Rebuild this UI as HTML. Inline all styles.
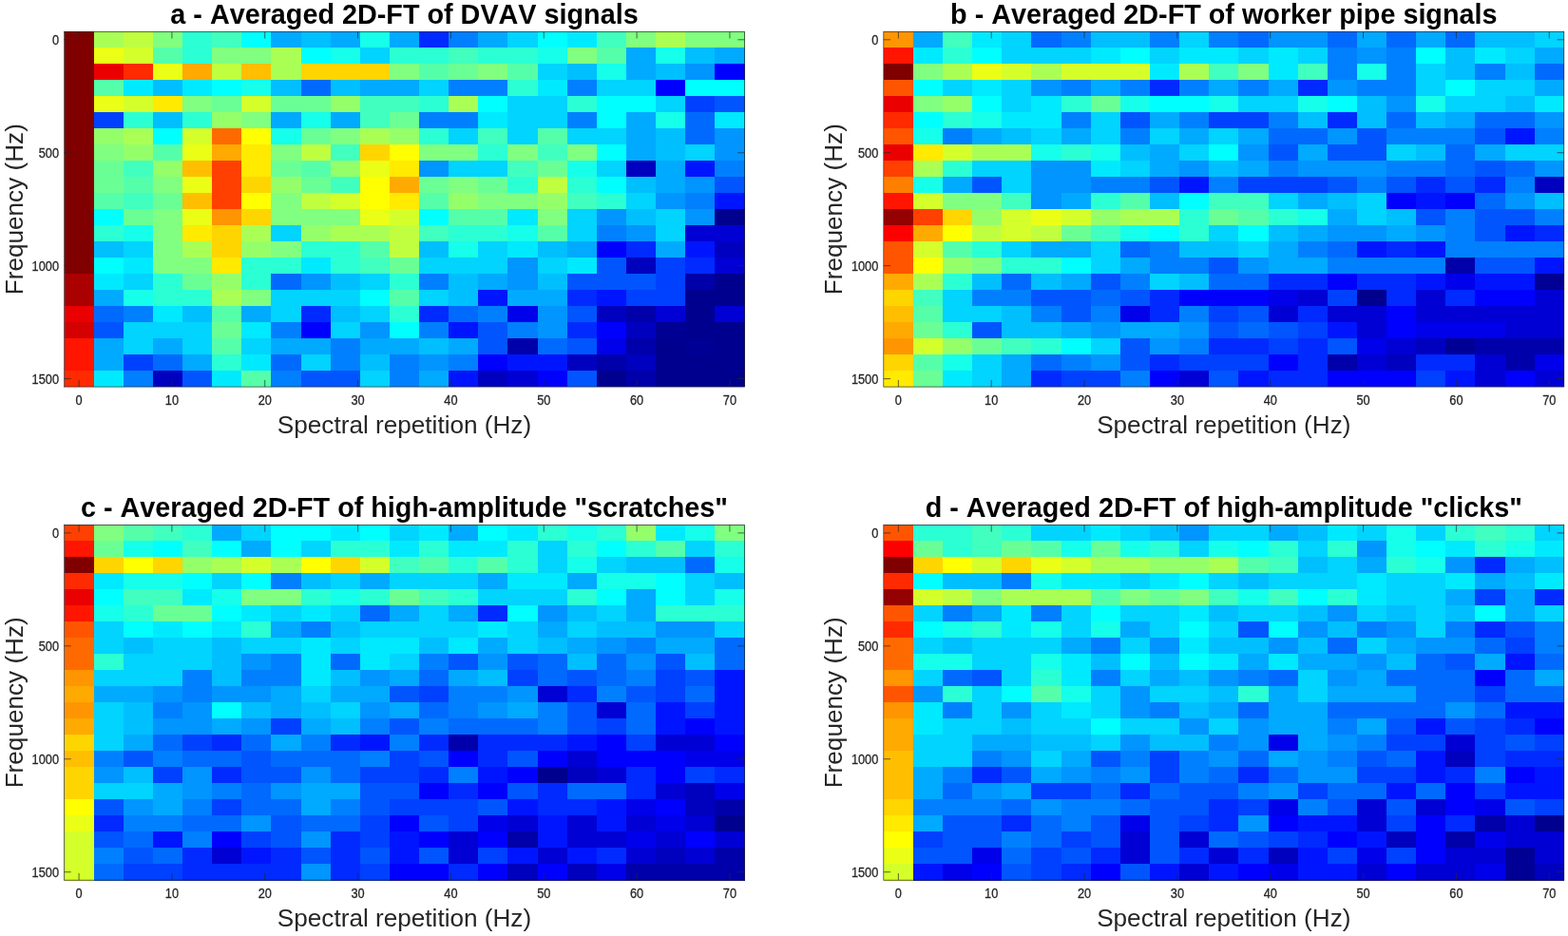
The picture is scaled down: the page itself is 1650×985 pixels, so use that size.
<!DOCTYPE html>
<html lang="en"><head><meta charset="utf-8"><title>Averaged 2D-FT</title>
<style>html,body{margin:0;padding:0;background:#fff;overflow:hidden}svg{display:block}text{font-family:"Liberation Sans",sans-serif;fill:#262626;font-kerning:none}.t{font-weight:bold;font-size:28.78px;font-kerning:none;fill:#000;text-anchor:middle}.l{font-size:26.15px;text-anchor:middle}.x{font-size:14.1px;text-anchor:middle;stroke:#262626;stroke-width:.3px}.y{font-size:14.1px;text-anchor:end;stroke:#262626;stroke-width:.3px}.k{stroke:#262626;stroke-width:0.7;fill:none}</style></head><body>
<svg width="1650" height="985" viewBox="0 0 1650 985">
<rect width="1650" height="985" fill="#fff"/>
<g id="panel-a">
<g shape-rendering="crispEdges">
<rect x="67.50" y="33.30" width="31.43" height="17.29" fill="#800000"/>
<rect x="98.63" y="33.30" width="31.43" height="17.29" fill="#aaff55"/>
<rect x="129.76" y="33.30" width="31.43" height="17.29" fill="#bfff40"/>
<rect x="160.89" y="33.30" width="31.43" height="17.29" fill="#80ff80"/>
<rect x="192.02" y="33.30" width="31.43" height="17.29" fill="#2bffd4"/>
<rect x="223.15" y="33.30" width="31.43" height="17.29" fill="#40ffbf"/>
<rect x="254.28" y="33.30" width="31.43" height="17.29" fill="#00ffff"/>
<rect x="285.41" y="33.30" width="31.43" height="17.29" fill="#00aaff"/>
<rect x="316.54" y="33.30" width="31.43" height="17.29" fill="#00bfff"/>
<rect x="347.67" y="33.30" width="31.43" height="17.29" fill="#00aaff"/>
<rect x="378.80" y="33.30" width="31.43" height="17.29" fill="#15ffea"/>
<rect x="409.93" y="33.30" width="31.43" height="17.29" fill="#00aaff"/>
<rect x="441.07" y="33.30" width="31.43" height="17.29" fill="#002aff"/>
<rect x="472.20" y="33.30" width="31.43" height="17.29" fill="#0080ff"/>
<rect x="503.33" y="33.30" width="31.43" height="17.29" fill="#00aaff"/>
<rect x="534.46" y="33.30" width="31.43" height="17.29" fill="#00d4ff"/>
<rect x="565.59" y="33.30" width="31.43" height="17.29" fill="#00ffff"/>
<rect x="596.72" y="33.30" width="31.43" height="17.29" fill="#00eaff"/>
<rect x="627.85" y="33.30" width="31.43" height="17.29" fill="#40ffbf"/>
<rect x="658.98" y="33.30" width="31.43" height="17.29" fill="#80ff80"/>
<rect x="690.11" y="33.30" width="31.43" height="17.29" fill="#aaff55"/>
<rect x="721.24" y="33.30" width="62.56" height="17.29" fill="#80ff80"/>
<rect x="67.50" y="50.29" width="31.43" height="17.29" fill="#800000"/>
<rect x="98.63" y="50.29" width="31.43" height="17.29" fill="#eaff15"/>
<rect x="129.76" y="50.29" width="31.43" height="17.29" fill="#d5ff2a"/>
<rect x="160.89" y="50.29" width="31.43" height="17.29" fill="#55ffaa"/>
<rect x="192.02" y="50.29" width="31.43" height="17.29" fill="#2bffd4"/>
<rect x="223.15" y="50.29" width="62.56" height="17.29" fill="#80ff80"/>
<rect x="285.41" y="50.29" width="31.43" height="17.29" fill="#aaff55"/>
<rect x="316.54" y="50.29" width="31.43" height="17.29" fill="#00ffff"/>
<rect x="347.67" y="50.29" width="31.43" height="17.29" fill="#15ffea"/>
<rect x="378.80" y="50.29" width="31.43" height="17.29" fill="#00d4ff"/>
<rect x="409.93" y="50.29" width="62.56" height="17.29" fill="#2bffd4"/>
<rect x="472.20" y="50.29" width="31.43" height="17.29" fill="#40ffbf"/>
<rect x="503.33" y="50.29" width="62.56" height="17.29" fill="#2bffd4"/>
<rect x="565.59" y="50.29" width="31.43" height="17.29" fill="#15ffea"/>
<rect x="596.72" y="50.29" width="31.43" height="17.29" fill="#80ff80"/>
<rect x="627.85" y="50.29" width="31.43" height="17.29" fill="#55ffaa"/>
<rect x="658.98" y="50.29" width="31.43" height="17.29" fill="#00aaff"/>
<rect x="690.11" y="50.29" width="31.43" height="17.29" fill="#15ffea"/>
<rect x="721.24" y="50.29" width="31.43" height="17.29" fill="#00bfff"/>
<rect x="752.37" y="50.29" width="31.43" height="17.29" fill="#00aaff"/>
<rect x="67.50" y="67.28" width="31.43" height="17.29" fill="#800000"/>
<rect x="98.63" y="67.28" width="31.43" height="17.29" fill="#ea0000"/>
<rect x="129.76" y="67.28" width="31.43" height="17.29" fill="#ff2a00"/>
<rect x="160.89" y="67.28" width="31.43" height="17.29" fill="#eaff15"/>
<rect x="192.02" y="67.28" width="31.43" height="17.29" fill="#ffaa00"/>
<rect x="223.15" y="67.28" width="31.43" height="17.29" fill="#bfff40"/>
<rect x="254.28" y="67.28" width="31.43" height="17.29" fill="#ffbf00"/>
<rect x="285.41" y="67.28" width="31.43" height="17.29" fill="#aaff55"/>
<rect x="316.54" y="67.28" width="93.69" height="17.29" fill="#ffd500"/>
<rect x="409.93" y="67.28" width="31.43" height="17.29" fill="#80ff80"/>
<rect x="441.07" y="67.28" width="31.43" height="17.29" fill="#55ffaa"/>
<rect x="472.20" y="67.28" width="31.43" height="17.29" fill="#6aff95"/>
<rect x="503.33" y="67.28" width="31.43" height="17.29" fill="#80ff80"/>
<rect x="534.46" y="67.28" width="31.43" height="17.29" fill="#55ffaa"/>
<rect x="565.59" y="67.28" width="31.43" height="17.29" fill="#00d4ff"/>
<rect x="596.72" y="67.28" width="31.43" height="17.29" fill="#00bfff"/>
<rect x="627.85" y="67.28" width="31.43" height="17.29" fill="#15ffea"/>
<rect x="658.98" y="67.28" width="31.43" height="17.29" fill="#00aaff"/>
<rect x="690.11" y="67.28" width="31.43" height="17.29" fill="#00bfff"/>
<rect x="721.24" y="67.28" width="31.43" height="17.29" fill="#0095ff"/>
<rect x="752.37" y="67.28" width="31.43" height="17.29" fill="#0000ff"/>
<rect x="67.50" y="84.27" width="31.43" height="17.29" fill="#800000"/>
<rect x="98.63" y="84.27" width="31.43" height="17.29" fill="#55ffaa"/>
<rect x="129.76" y="84.27" width="31.43" height="17.29" fill="#00eaff"/>
<rect x="160.89" y="84.27" width="31.43" height="17.29" fill="#00bfff"/>
<rect x="192.02" y="84.27" width="31.43" height="17.29" fill="#00eaff"/>
<rect x="223.15" y="84.27" width="31.43" height="17.29" fill="#00ffff"/>
<rect x="254.28" y="84.27" width="31.43" height="17.29" fill="#15ffea"/>
<rect x="285.41" y="84.27" width="31.43" height="17.29" fill="#00bfff"/>
<rect x="316.54" y="84.27" width="31.43" height="17.29" fill="#006aff"/>
<rect x="347.67" y="84.27" width="31.43" height="17.29" fill="#00bfff"/>
<rect x="378.80" y="84.27" width="62.56" height="17.29" fill="#00aaff"/>
<rect x="441.07" y="84.27" width="31.43" height="17.29" fill="#00d4ff"/>
<rect x="472.20" y="84.27" width="62.56" height="17.29" fill="#0080ff"/>
<rect x="534.46" y="84.27" width="31.43" height="17.29" fill="#2bffd4"/>
<rect x="565.59" y="84.27" width="31.43" height="17.29" fill="#00eaff"/>
<rect x="596.72" y="84.27" width="31.43" height="17.29" fill="#0080ff"/>
<rect x="627.85" y="84.27" width="62.56" height="17.29" fill="#00d4ff"/>
<rect x="690.11" y="84.27" width="31.43" height="17.29" fill="#0000ff"/>
<rect x="721.24" y="84.27" width="62.56" height="17.29" fill="#00ffff"/>
<rect x="67.50" y="101.26" width="31.43" height="17.29" fill="#800000"/>
<rect x="98.63" y="101.26" width="31.43" height="17.29" fill="#eaff15"/>
<rect x="129.76" y="101.26" width="31.43" height="17.29" fill="#d5ff2a"/>
<rect x="160.89" y="101.26" width="31.43" height="17.29" fill="#ffea00"/>
<rect x="192.02" y="101.26" width="31.43" height="17.29" fill="#80ff80"/>
<rect x="223.15" y="101.26" width="31.43" height="17.29" fill="#6aff95"/>
<rect x="254.28" y="101.26" width="31.43" height="17.29" fill="#d5ff2a"/>
<rect x="285.41" y="101.26" width="62.56" height="17.29" fill="#6aff95"/>
<rect x="347.67" y="101.26" width="31.43" height="17.29" fill="#95ff6a"/>
<rect x="378.80" y="101.26" width="62.56" height="17.29" fill="#40ffbf"/>
<rect x="441.07" y="101.26" width="31.43" height="17.29" fill="#2bffd4"/>
<rect x="472.20" y="101.26" width="31.43" height="17.29" fill="#aaff55"/>
<rect x="503.33" y="101.26" width="31.43" height="17.29" fill="#00ffff"/>
<rect x="534.46" y="101.26" width="62.56" height="17.29" fill="#00d4ff"/>
<rect x="596.72" y="101.26" width="31.43" height="17.29" fill="#2bffd4"/>
<rect x="627.85" y="101.26" width="62.56" height="17.29" fill="#00ffff"/>
<rect x="690.11" y="101.26" width="31.43" height="17.29" fill="#00d4ff"/>
<rect x="721.24" y="101.26" width="31.43" height="17.29" fill="#0040ff"/>
<rect x="752.37" y="101.26" width="31.43" height="17.29" fill="#0055ff"/>
<rect x="67.50" y="118.25" width="31.43" height="17.29" fill="#800000"/>
<rect x="98.63" y="118.25" width="31.43" height="17.29" fill="#0040ff"/>
<rect x="129.76" y="118.25" width="31.43" height="17.29" fill="#2bffd4"/>
<rect x="160.89" y="118.25" width="31.43" height="17.29" fill="#00bfff"/>
<rect x="192.02" y="118.25" width="31.43" height="17.29" fill="#2bffd4"/>
<rect x="223.15" y="118.25" width="31.43" height="17.29" fill="#95ff6a"/>
<rect x="254.28" y="118.25" width="31.43" height="17.29" fill="#80ff80"/>
<rect x="285.41" y="118.25" width="31.43" height="17.29" fill="#00aaff"/>
<rect x="316.54" y="118.25" width="31.43" height="17.29" fill="#15ffea"/>
<rect x="347.67" y="118.25" width="31.43" height="17.29" fill="#00aaff"/>
<rect x="378.80" y="118.25" width="31.43" height="17.29" fill="#40ffbf"/>
<rect x="409.93" y="118.25" width="31.43" height="17.29" fill="#6aff95"/>
<rect x="441.07" y="118.25" width="62.56" height="17.29" fill="#0080ff"/>
<rect x="503.33" y="118.25" width="31.43" height="17.29" fill="#00eaff"/>
<rect x="534.46" y="118.25" width="62.56" height="17.29" fill="#00d4ff"/>
<rect x="596.72" y="118.25" width="31.43" height="17.29" fill="#0080ff"/>
<rect x="627.85" y="118.25" width="31.43" height="17.29" fill="#00ffff"/>
<rect x="658.98" y="118.25" width="31.43" height="17.29" fill="#00aaff"/>
<rect x="690.11" y="118.25" width="31.43" height="17.29" fill="#15ffea"/>
<rect x="721.24" y="118.25" width="31.43" height="17.29" fill="#006aff"/>
<rect x="752.37" y="118.25" width="31.43" height="17.29" fill="#00eaff"/>
<rect x="67.50" y="135.25" width="31.43" height="17.29" fill="#800000"/>
<rect x="98.63" y="135.25" width="31.43" height="17.29" fill="#95ff6a"/>
<rect x="129.76" y="135.25" width="31.43" height="17.29" fill="#aaff55"/>
<rect x="160.89" y="135.25" width="31.43" height="17.29" fill="#00ffff"/>
<rect x="192.02" y="135.25" width="31.43" height="17.29" fill="#d5ff2a"/>
<rect x="223.15" y="135.25" width="31.43" height="17.29" fill="#ff6a00"/>
<rect x="254.28" y="135.25" width="31.43" height="17.29" fill="#ffff00"/>
<rect x="285.41" y="135.25" width="31.43" height="17.29" fill="#15ffea"/>
<rect x="316.54" y="135.25" width="31.43" height="17.29" fill="#6aff95"/>
<rect x="347.67" y="135.25" width="31.43" height="17.29" fill="#80ff80"/>
<rect x="378.80" y="135.25" width="31.43" height="17.29" fill="#aaff55"/>
<rect x="409.93" y="135.25" width="31.43" height="17.29" fill="#95ff6a"/>
<rect x="441.07" y="135.25" width="31.43" height="17.29" fill="#2bffd4"/>
<rect x="472.20" y="135.25" width="31.43" height="17.29" fill="#00d4ff"/>
<rect x="503.33" y="135.25" width="31.43" height="17.29" fill="#40ffbf"/>
<rect x="534.46" y="135.25" width="31.43" height="17.29" fill="#00d4ff"/>
<rect x="565.59" y="135.25" width="31.43" height="17.29" fill="#55ffaa"/>
<rect x="596.72" y="135.25" width="62.56" height="17.29" fill="#00d4ff"/>
<rect x="658.98" y="135.25" width="31.43" height="17.29" fill="#00aaff"/>
<rect x="690.11" y="135.25" width="31.43" height="17.29" fill="#00bfff"/>
<rect x="721.24" y="135.25" width="31.43" height="17.29" fill="#006aff"/>
<rect x="752.37" y="135.25" width="31.43" height="17.29" fill="#0095ff"/>
<rect x="67.50" y="152.24" width="31.43" height="17.29" fill="#800000"/>
<rect x="98.63" y="152.24" width="31.43" height="17.29" fill="#80ff80"/>
<rect x="129.76" y="152.24" width="31.43" height="17.29" fill="#95ff6a"/>
<rect x="160.89" y="152.24" width="31.43" height="17.29" fill="#55ffaa"/>
<rect x="192.02" y="152.24" width="31.43" height="17.29" fill="#eaff15"/>
<rect x="223.15" y="152.24" width="31.43" height="17.29" fill="#ffaa00"/>
<rect x="254.28" y="152.24" width="31.43" height="17.29" fill="#ffea00"/>
<rect x="285.41" y="152.24" width="31.43" height="17.29" fill="#80ff80"/>
<rect x="316.54" y="152.24" width="31.43" height="17.29" fill="#bfff40"/>
<rect x="347.67" y="152.24" width="31.43" height="17.29" fill="#40ffbf"/>
<rect x="378.80" y="152.24" width="31.43" height="17.29" fill="#ffd500"/>
<rect x="409.93" y="152.24" width="31.43" height="17.29" fill="#ffff00"/>
<rect x="441.07" y="152.24" width="62.56" height="17.29" fill="#80ff80"/>
<rect x="503.33" y="152.24" width="31.43" height="17.29" fill="#2bffd4"/>
<rect x="534.46" y="152.24" width="31.43" height="17.29" fill="#80ff80"/>
<rect x="565.59" y="152.24" width="31.43" height="17.29" fill="#40ffbf"/>
<rect x="596.72" y="152.24" width="31.43" height="17.29" fill="#80ff80"/>
<rect x="627.85" y="152.24" width="31.43" height="17.29" fill="#00ffff"/>
<rect x="658.98" y="152.24" width="31.43" height="17.29" fill="#00aaff"/>
<rect x="690.11" y="152.24" width="31.43" height="17.29" fill="#00bfff"/>
<rect x="721.24" y="152.24" width="31.43" height="17.29" fill="#00d4ff"/>
<rect x="752.37" y="152.24" width="31.43" height="17.29" fill="#0095ff"/>
<rect x="67.50" y="169.23" width="31.43" height="17.29" fill="#800000"/>
<rect x="98.63" y="169.23" width="31.43" height="17.29" fill="#6aff95"/>
<rect x="129.76" y="169.23" width="31.43" height="17.29" fill="#40ffbf"/>
<rect x="160.89" y="169.23" width="31.43" height="17.29" fill="#95ff6a"/>
<rect x="192.02" y="169.23" width="31.43" height="17.29" fill="#ffbf00"/>
<rect x="223.15" y="169.23" width="31.43" height="17.29" fill="#ff4000"/>
<rect x="254.28" y="169.23" width="31.43" height="17.29" fill="#ffea00"/>
<rect x="285.41" y="169.23" width="31.43" height="17.29" fill="#6aff95"/>
<rect x="316.54" y="169.23" width="31.43" height="17.29" fill="#55ffaa"/>
<rect x="347.67" y="169.23" width="31.43" height="17.29" fill="#95ff6a"/>
<rect x="378.80" y="169.23" width="31.43" height="17.29" fill="#eaff15"/>
<rect x="409.93" y="169.23" width="31.43" height="17.29" fill="#ffea00"/>
<rect x="441.07" y="169.23" width="31.43" height="17.29" fill="#0095ff"/>
<rect x="472.20" y="169.23" width="62.56" height="17.29" fill="#00d4ff"/>
<rect x="534.46" y="169.23" width="31.43" height="17.29" fill="#40ffbf"/>
<rect x="565.59" y="169.23" width="31.43" height="17.29" fill="#6aff95"/>
<rect x="596.72" y="169.23" width="31.43" height="17.29" fill="#15ffea"/>
<rect x="627.85" y="169.23" width="31.43" height="17.29" fill="#00d4ff"/>
<rect x="658.98" y="169.23" width="31.43" height="17.29" fill="#0000bf"/>
<rect x="690.11" y="169.23" width="31.43" height="17.29" fill="#00aaff"/>
<rect x="721.24" y="169.23" width="31.43" height="17.29" fill="#0015ff"/>
<rect x="752.37" y="169.23" width="31.43" height="17.29" fill="#0080ff"/>
<rect x="67.50" y="186.22" width="31.43" height="17.29" fill="#800000"/>
<rect x="98.63" y="186.22" width="31.43" height="17.29" fill="#6aff95"/>
<rect x="129.76" y="186.22" width="31.43" height="17.29" fill="#55ffaa"/>
<rect x="160.89" y="186.22" width="31.43" height="17.29" fill="#80ff80"/>
<rect x="192.02" y="186.22" width="31.43" height="17.29" fill="#eaff15"/>
<rect x="223.15" y="186.22" width="31.43" height="17.29" fill="#ff4000"/>
<rect x="254.28" y="186.22" width="31.43" height="17.29" fill="#ffd500"/>
<rect x="285.41" y="186.22" width="31.43" height="17.29" fill="#95ff6a"/>
<rect x="316.54" y="186.22" width="31.43" height="17.29" fill="#6aff95"/>
<rect x="347.67" y="186.22" width="31.43" height="17.29" fill="#40ffbf"/>
<rect x="378.80" y="186.22" width="31.43" height="17.29" fill="#ffff00"/>
<rect x="409.93" y="186.22" width="31.43" height="17.29" fill="#ffaa00"/>
<rect x="441.07" y="186.22" width="31.43" height="17.29" fill="#6aff95"/>
<rect x="472.20" y="186.22" width="31.43" height="17.29" fill="#80ff80"/>
<rect x="503.33" y="186.22" width="31.43" height="17.29" fill="#6aff95"/>
<rect x="534.46" y="186.22" width="31.43" height="17.29" fill="#2bffd4"/>
<rect x="565.59" y="186.22" width="31.43" height="17.29" fill="#bfff40"/>
<rect x="596.72" y="186.22" width="31.43" height="17.29" fill="#2bffd4"/>
<rect x="627.85" y="186.22" width="31.43" height="17.29" fill="#00ffff"/>
<rect x="658.98" y="186.22" width="31.43" height="17.29" fill="#00bfff"/>
<rect x="690.11" y="186.22" width="31.43" height="17.29" fill="#00aaff"/>
<rect x="721.24" y="186.22" width="31.43" height="17.29" fill="#0095ff"/>
<rect x="752.37" y="186.22" width="31.43" height="17.29" fill="#0055ff"/>
<rect x="67.50" y="203.21" width="31.43" height="17.29" fill="#800000"/>
<rect x="98.63" y="203.21" width="31.43" height="17.29" fill="#55ffaa"/>
<rect x="129.76" y="203.21" width="31.43" height="17.29" fill="#40ffbf"/>
<rect x="160.89" y="203.21" width="31.43" height="17.29" fill="#6aff95"/>
<rect x="192.02" y="203.21" width="31.43" height="17.29" fill="#ffbf00"/>
<rect x="223.15" y="203.21" width="31.43" height="17.29" fill="#ff4000"/>
<rect x="254.28" y="203.21" width="31.43" height="17.29" fill="#ffff00"/>
<rect x="285.41" y="203.21" width="31.43" height="17.29" fill="#80ff80"/>
<rect x="316.54" y="203.21" width="31.43" height="17.29" fill="#bfff40"/>
<rect x="347.67" y="203.21" width="31.43" height="17.29" fill="#d5ff2a"/>
<rect x="378.80" y="203.21" width="31.43" height="17.29" fill="#ffff00"/>
<rect x="409.93" y="203.21" width="31.43" height="17.29" fill="#ffea00"/>
<rect x="441.07" y="203.21" width="31.43" height="17.29" fill="#55ffaa"/>
<rect x="472.20" y="203.21" width="31.43" height="17.29" fill="#95ff6a"/>
<rect x="503.33" y="203.21" width="62.56" height="17.29" fill="#80ff80"/>
<rect x="565.59" y="203.21" width="31.43" height="17.29" fill="#95ff6a"/>
<rect x="596.72" y="203.21" width="31.43" height="17.29" fill="#40ffbf"/>
<rect x="627.85" y="203.21" width="31.43" height="17.29" fill="#2bffd4"/>
<rect x="658.98" y="203.21" width="31.43" height="17.29" fill="#00d4ff"/>
<rect x="690.11" y="203.21" width="31.43" height="17.29" fill="#0095ff"/>
<rect x="721.24" y="203.21" width="31.43" height="17.29" fill="#0080ff"/>
<rect x="752.37" y="203.21" width="31.43" height="17.29" fill="#0015ff"/>
<rect x="67.50" y="220.20" width="31.43" height="17.29" fill="#800000"/>
<rect x="98.63" y="220.20" width="31.43" height="17.29" fill="#00ffff"/>
<rect x="129.76" y="220.20" width="31.43" height="17.29" fill="#6aff95"/>
<rect x="160.89" y="220.20" width="31.43" height="17.29" fill="#80ff80"/>
<rect x="192.02" y="220.20" width="31.43" height="17.29" fill="#eaff15"/>
<rect x="223.15" y="220.20" width="31.43" height="17.29" fill="#ff9500"/>
<rect x="254.28" y="220.20" width="31.43" height="17.29" fill="#ffd500"/>
<rect x="285.41" y="220.20" width="93.69" height="17.29" fill="#80ff80"/>
<rect x="378.80" y="220.20" width="31.43" height="17.29" fill="#eaff15"/>
<rect x="409.93" y="220.20" width="31.43" height="17.29" fill="#d5ff2a"/>
<rect x="441.07" y="220.20" width="31.43" height="17.29" fill="#00ffff"/>
<rect x="472.20" y="220.20" width="62.56" height="17.29" fill="#55ffaa"/>
<rect x="534.46" y="220.20" width="31.43" height="17.29" fill="#00eaff"/>
<rect x="565.59" y="220.20" width="31.43" height="17.29" fill="#80ff80"/>
<rect x="596.72" y="220.20" width="31.43" height="17.29" fill="#00d4ff"/>
<rect x="627.85" y="220.20" width="31.43" height="17.29" fill="#0095ff"/>
<rect x="658.98" y="220.20" width="31.43" height="17.29" fill="#00bfff"/>
<rect x="690.11" y="220.20" width="31.43" height="17.29" fill="#00d4ff"/>
<rect x="721.24" y="220.20" width="31.43" height="17.29" fill="#0095ff"/>
<rect x="752.37" y="220.20" width="31.43" height="17.29" fill="#00008f"/>
<rect x="67.50" y="237.19" width="31.43" height="17.29" fill="#800000"/>
<rect x="98.63" y="237.19" width="31.43" height="17.29" fill="#2bffd4"/>
<rect x="129.76" y="237.19" width="31.43" height="17.29" fill="#15ffea"/>
<rect x="160.89" y="237.19" width="31.43" height="17.29" fill="#80ff80"/>
<rect x="192.02" y="237.19" width="31.43" height="17.29" fill="#ffea00"/>
<rect x="223.15" y="237.19" width="31.43" height="17.29" fill="#ffd500"/>
<rect x="254.28" y="237.19" width="31.43" height="17.29" fill="#aaff55"/>
<rect x="285.41" y="237.19" width="31.43" height="17.29" fill="#00d4ff"/>
<rect x="316.54" y="237.19" width="31.43" height="17.29" fill="#95ff6a"/>
<rect x="347.67" y="237.19" width="62.56" height="17.29" fill="#aaff55"/>
<rect x="409.93" y="237.19" width="31.43" height="17.29" fill="#bfff40"/>
<rect x="441.07" y="237.19" width="31.43" height="17.29" fill="#40ffbf"/>
<rect x="472.20" y="237.19" width="62.56" height="17.29" fill="#2bffd4"/>
<rect x="534.46" y="237.19" width="31.43" height="17.29" fill="#15ffea"/>
<rect x="565.59" y="237.19" width="31.43" height="17.29" fill="#55ffaa"/>
<rect x="596.72" y="237.19" width="31.43" height="17.29" fill="#00d4ff"/>
<rect x="627.85" y="237.19" width="31.43" height="17.29" fill="#0080ff"/>
<rect x="658.98" y="237.19" width="31.43" height="17.29" fill="#0095ff"/>
<rect x="690.11" y="237.19" width="31.43" height="17.29" fill="#00d4ff"/>
<rect x="721.24" y="237.19" width="62.56" height="17.29" fill="#0000d4"/>
<rect x="67.50" y="254.18" width="31.43" height="17.29" fill="#800000"/>
<rect x="98.63" y="254.18" width="31.43" height="17.29" fill="#00bfff"/>
<rect x="129.76" y="254.18" width="31.43" height="17.29" fill="#00d4ff"/>
<rect x="160.89" y="254.18" width="31.43" height="17.29" fill="#80ff80"/>
<rect x="192.02" y="254.18" width="31.43" height="17.29" fill="#aaff55"/>
<rect x="223.15" y="254.18" width="31.43" height="17.29" fill="#ffd500"/>
<rect x="254.28" y="254.18" width="31.43" height="17.29" fill="#95ff6a"/>
<rect x="285.41" y="254.18" width="31.43" height="17.29" fill="#80ff80"/>
<rect x="316.54" y="254.18" width="62.56" height="17.29" fill="#2bffd4"/>
<rect x="378.80" y="254.18" width="31.43" height="17.29" fill="#55ffaa"/>
<rect x="409.93" y="254.18" width="31.43" height="17.29" fill="#bfff40"/>
<rect x="441.07" y="254.18" width="31.43" height="17.29" fill="#00bfff"/>
<rect x="472.20" y="254.18" width="31.43" height="17.29" fill="#15ffea"/>
<rect x="503.33" y="254.18" width="31.43" height="17.29" fill="#00d4ff"/>
<rect x="534.46" y="254.18" width="31.43" height="17.29" fill="#00eaff"/>
<rect x="565.59" y="254.18" width="31.43" height="17.29" fill="#00bfff"/>
<rect x="596.72" y="254.18" width="31.43" height="17.29" fill="#00aaff"/>
<rect x="627.85" y="254.18" width="31.43" height="17.29" fill="#0000ff"/>
<rect x="658.98" y="254.18" width="31.43" height="17.29" fill="#002aff"/>
<rect x="690.11" y="254.18" width="31.43" height="17.29" fill="#00aaff"/>
<rect x="721.24" y="254.18" width="31.43" height="17.29" fill="#0015ff"/>
<rect x="752.37" y="254.18" width="31.43" height="17.29" fill="#0000bf"/>
<rect x="67.50" y="271.17" width="31.43" height="17.29" fill="#800000"/>
<rect x="98.63" y="271.17" width="31.43" height="17.29" fill="#00ffff"/>
<rect x="129.76" y="271.17" width="31.43" height="17.29" fill="#00eaff"/>
<rect x="160.89" y="271.17" width="62.56" height="17.29" fill="#80ff80"/>
<rect x="223.15" y="271.17" width="31.43" height="17.29" fill="#ffea00"/>
<rect x="254.28" y="271.17" width="62.56" height="17.29" fill="#2bffd4"/>
<rect x="316.54" y="271.17" width="31.43" height="17.29" fill="#00eaff"/>
<rect x="347.67" y="271.17" width="31.43" height="17.29" fill="#2bffd4"/>
<rect x="378.80" y="271.17" width="31.43" height="17.29" fill="#40ffbf"/>
<rect x="409.93" y="271.17" width="31.43" height="17.29" fill="#6aff95"/>
<rect x="441.07" y="271.17" width="93.69" height="17.29" fill="#00d4ff"/>
<rect x="534.46" y="271.17" width="31.43" height="17.29" fill="#0095ff"/>
<rect x="565.59" y="271.17" width="31.43" height="17.29" fill="#00d4ff"/>
<rect x="596.72" y="271.17" width="31.43" height="17.29" fill="#00eaff"/>
<rect x="627.85" y="271.17" width="31.43" height="17.29" fill="#0055ff"/>
<rect x="658.98" y="271.17" width="31.43" height="17.29" fill="#0000bf"/>
<rect x="690.11" y="271.17" width="31.43" height="17.29" fill="#0040ff"/>
<rect x="721.24" y="271.17" width="31.43" height="17.29" fill="#002aff"/>
<rect x="752.37" y="271.17" width="31.43" height="17.29" fill="#0000d4"/>
<rect x="67.50" y="288.16" width="31.43" height="17.29" fill="#aa0000"/>
<rect x="98.63" y="288.16" width="31.43" height="17.29" fill="#00eaff"/>
<rect x="129.76" y="288.16" width="31.43" height="17.29" fill="#00d4ff"/>
<rect x="160.89" y="288.16" width="31.43" height="17.29" fill="#2bffd4"/>
<rect x="192.02" y="288.16" width="31.43" height="17.29" fill="#6aff95"/>
<rect x="223.15" y="288.16" width="31.43" height="17.29" fill="#95ff6a"/>
<rect x="254.28" y="288.16" width="31.43" height="17.29" fill="#2bffd4"/>
<rect x="285.41" y="288.16" width="31.43" height="17.29" fill="#006aff"/>
<rect x="316.54" y="288.16" width="31.43" height="17.29" fill="#0095ff"/>
<rect x="347.67" y="288.16" width="31.43" height="17.29" fill="#00bfff"/>
<rect x="378.80" y="288.16" width="31.43" height="17.29" fill="#00d4ff"/>
<rect x="409.93" y="288.16" width="31.43" height="17.29" fill="#2bffd4"/>
<rect x="441.07" y="288.16" width="31.43" height="17.29" fill="#0080ff"/>
<rect x="472.20" y="288.16" width="31.43" height="17.29" fill="#00bfff"/>
<rect x="503.33" y="288.16" width="31.43" height="17.29" fill="#00aaff"/>
<rect x="534.46" y="288.16" width="31.43" height="17.29" fill="#0095ff"/>
<rect x="565.59" y="288.16" width="31.43" height="17.29" fill="#00bfff"/>
<rect x="596.72" y="288.16" width="93.69" height="17.29" fill="#0055ff"/>
<rect x="690.11" y="288.16" width="31.43" height="17.29" fill="#0040ff"/>
<rect x="721.24" y="288.16" width="31.43" height="17.29" fill="#0000aa"/>
<rect x="752.37" y="288.16" width="31.43" height="17.29" fill="#00008f"/>
<rect x="67.50" y="305.15" width="31.43" height="17.29" fill="#aa0000"/>
<rect x="98.63" y="305.15" width="31.43" height="17.29" fill="#00aaff"/>
<rect x="129.76" y="305.15" width="31.43" height="17.29" fill="#15ffea"/>
<rect x="160.89" y="305.15" width="62.56" height="17.29" fill="#2bffd4"/>
<rect x="223.15" y="305.15" width="31.43" height="17.29" fill="#aaff55"/>
<rect x="254.28" y="305.15" width="31.43" height="17.29" fill="#80ff80"/>
<rect x="285.41" y="305.15" width="93.69" height="17.29" fill="#00d4ff"/>
<rect x="378.80" y="305.15" width="31.43" height="17.29" fill="#00ffff"/>
<rect x="409.93" y="305.15" width="31.43" height="17.29" fill="#55ffaa"/>
<rect x="441.07" y="305.15" width="31.43" height="17.29" fill="#00d4ff"/>
<rect x="472.20" y="305.15" width="31.43" height="17.29" fill="#00bfff"/>
<rect x="503.33" y="305.15" width="31.43" height="17.29" fill="#0015ff"/>
<rect x="534.46" y="305.15" width="62.56" height="17.29" fill="#00aaff"/>
<rect x="596.72" y="305.15" width="31.43" height="17.29" fill="#002aff"/>
<rect x="627.85" y="305.15" width="31.43" height="17.29" fill="#0015ff"/>
<rect x="658.98" y="305.15" width="62.56" height="17.29" fill="#0040ff"/>
<rect x="721.24" y="305.15" width="62.56" height="17.29" fill="#00008f"/>
<rect x="67.50" y="322.15" width="31.43" height="17.29" fill="#ea0000"/>
<rect x="98.63" y="322.15" width="31.43" height="17.29" fill="#006aff"/>
<rect x="129.76" y="322.15" width="31.43" height="17.29" fill="#0080ff"/>
<rect x="160.89" y="322.15" width="31.43" height="17.29" fill="#00eaff"/>
<rect x="192.02" y="322.15" width="31.43" height="17.29" fill="#00bfff"/>
<rect x="223.15" y="322.15" width="31.43" height="17.29" fill="#55ffaa"/>
<rect x="254.28" y="322.15" width="31.43" height="17.29" fill="#00aaff"/>
<rect x="285.41" y="322.15" width="31.43" height="17.29" fill="#00d4ff"/>
<rect x="316.54" y="322.15" width="31.43" height="17.29" fill="#002aff"/>
<rect x="347.67" y="322.15" width="31.43" height="17.29" fill="#00bfff"/>
<rect x="378.80" y="322.15" width="31.43" height="17.29" fill="#00d4ff"/>
<rect x="409.93" y="322.15" width="31.43" height="17.29" fill="#2bffd4"/>
<rect x="441.07" y="322.15" width="31.43" height="17.29" fill="#002aff"/>
<rect x="472.20" y="322.15" width="31.43" height="17.29" fill="#006aff"/>
<rect x="503.33" y="322.15" width="31.43" height="17.29" fill="#0080ff"/>
<rect x="534.46" y="322.15" width="31.43" height="17.29" fill="#0000ea"/>
<rect x="565.59" y="322.15" width="31.43" height="17.29" fill="#0095ff"/>
<rect x="596.72" y="322.15" width="31.43" height="17.29" fill="#0055ff"/>
<rect x="627.85" y="322.15" width="31.43" height="17.29" fill="#0000bf"/>
<rect x="658.98" y="322.15" width="31.43" height="17.29" fill="#0000aa"/>
<rect x="690.11" y="322.15" width="31.43" height="17.29" fill="#0000d4"/>
<rect x="721.24" y="322.15" width="31.43" height="17.29" fill="#00008f"/>
<rect x="752.37" y="322.15" width="31.43" height="17.29" fill="#0000d4"/>
<rect x="67.50" y="339.14" width="31.43" height="17.29" fill="#d50000"/>
<rect x="98.63" y="339.14" width="31.43" height="17.29" fill="#0055ff"/>
<rect x="129.76" y="339.14" width="93.69" height="17.29" fill="#00d4ff"/>
<rect x="223.15" y="339.14" width="31.43" height="17.29" fill="#6aff95"/>
<rect x="254.28" y="339.14" width="31.43" height="17.29" fill="#00eaff"/>
<rect x="285.41" y="339.14" width="31.43" height="17.29" fill="#0080ff"/>
<rect x="316.54" y="339.14" width="31.43" height="17.29" fill="#0000ff"/>
<rect x="347.67" y="339.14" width="31.43" height="17.29" fill="#00d4ff"/>
<rect x="378.80" y="339.14" width="31.43" height="17.29" fill="#0095ff"/>
<rect x="409.93" y="339.14" width="31.43" height="17.29" fill="#00ffff"/>
<rect x="441.07" y="339.14" width="31.43" height="17.29" fill="#0080ff"/>
<rect x="472.20" y="339.14" width="31.43" height="17.29" fill="#0015ff"/>
<rect x="503.33" y="339.14" width="31.43" height="17.29" fill="#0055ff"/>
<rect x="534.46" y="339.14" width="31.43" height="17.29" fill="#0080ff"/>
<rect x="565.59" y="339.14" width="31.43" height="17.29" fill="#0095ff"/>
<rect x="596.72" y="339.14" width="31.43" height="17.29" fill="#002aff"/>
<rect x="627.85" y="339.14" width="31.43" height="17.29" fill="#0000ff"/>
<rect x="658.98" y="339.14" width="31.43" height="17.29" fill="#0000bf"/>
<rect x="690.11" y="339.14" width="31.43" height="17.29" fill="#000095"/>
<rect x="721.24" y="339.14" width="62.56" height="17.29" fill="#00008f"/>
<rect x="67.50" y="356.13" width="31.43" height="17.29" fill="#ff1500"/>
<rect x="98.63" y="356.13" width="31.43" height="17.29" fill="#00aaff"/>
<rect x="129.76" y="356.13" width="31.43" height="17.29" fill="#00d4ff"/>
<rect x="160.89" y="356.13" width="31.43" height="17.29" fill="#00aaff"/>
<rect x="192.02" y="356.13" width="31.43" height="17.29" fill="#00d4ff"/>
<rect x="223.15" y="356.13" width="31.43" height="17.29" fill="#55ffaa"/>
<rect x="254.28" y="356.13" width="31.43" height="17.29" fill="#00d4ff"/>
<rect x="285.41" y="356.13" width="62.56" height="17.29" fill="#00aaff"/>
<rect x="347.67" y="356.13" width="31.43" height="17.29" fill="#0080ff"/>
<rect x="378.80" y="356.13" width="62.56" height="17.29" fill="#00aaff"/>
<rect x="441.07" y="356.13" width="31.43" height="17.29" fill="#00bfff"/>
<rect x="472.20" y="356.13" width="31.43" height="17.29" fill="#00aaff"/>
<rect x="503.33" y="356.13" width="31.43" height="17.29" fill="#0055ff"/>
<rect x="534.46" y="356.13" width="31.43" height="17.29" fill="#0000aa"/>
<rect x="565.59" y="356.13" width="31.43" height="17.29" fill="#006aff"/>
<rect x="596.72" y="356.13" width="31.43" height="17.29" fill="#0055ff"/>
<rect x="627.85" y="356.13" width="31.43" height="17.29" fill="#0000ea"/>
<rect x="658.98" y="356.13" width="31.43" height="17.29" fill="#0000aa"/>
<rect x="690.11" y="356.13" width="31.43" height="17.29" fill="#00008f"/>
<rect x="721.24" y="356.13" width="31.43" height="17.29" fill="#000095"/>
<rect x="752.37" y="356.13" width="31.43" height="17.29" fill="#00008f"/>
<rect x="67.50" y="373.12" width="31.43" height="17.29" fill="#ff1500"/>
<rect x="98.63" y="373.12" width="31.43" height="17.29" fill="#00aaff"/>
<rect x="129.76" y="373.12" width="31.43" height="17.29" fill="#0040ff"/>
<rect x="160.89" y="373.12" width="31.43" height="17.29" fill="#006aff"/>
<rect x="192.02" y="373.12" width="31.43" height="17.29" fill="#00aaff"/>
<rect x="223.15" y="373.12" width="31.43" height="17.29" fill="#2bffd4"/>
<rect x="254.28" y="373.12" width="31.43" height="17.29" fill="#00eaff"/>
<rect x="285.41" y="373.12" width="31.43" height="17.29" fill="#006aff"/>
<rect x="316.54" y="373.12" width="31.43" height="17.29" fill="#00d4ff"/>
<rect x="347.67" y="373.12" width="31.43" height="17.29" fill="#0080ff"/>
<rect x="378.80" y="373.12" width="31.43" height="17.29" fill="#00bfff"/>
<rect x="409.93" y="373.12" width="31.43" height="17.29" fill="#0080ff"/>
<rect x="441.07" y="373.12" width="31.43" height="17.29" fill="#0095ff"/>
<rect x="472.20" y="373.12" width="31.43" height="17.29" fill="#0080ff"/>
<rect x="503.33" y="373.12" width="31.43" height="17.29" fill="#0000ff"/>
<rect x="534.46" y="373.12" width="62.56" height="17.29" fill="#0015ff"/>
<rect x="596.72" y="373.12" width="31.43" height="17.29" fill="#0000bf"/>
<rect x="627.85" y="373.12" width="31.43" height="17.29" fill="#0000aa"/>
<rect x="658.98" y="373.12" width="31.43" height="17.29" fill="#0000bf"/>
<rect x="690.11" y="373.12" width="93.69" height="17.29" fill="#00008f"/>
<rect x="67.50" y="390.11" width="31.43" height="17.29" fill="#ff2a00"/>
<rect x="98.63" y="390.11" width="31.43" height="17.29" fill="#00eaff"/>
<rect x="129.76" y="390.11" width="31.43" height="17.29" fill="#0080ff"/>
<rect x="160.89" y="390.11" width="31.43" height="17.29" fill="#0000bf"/>
<rect x="192.02" y="390.11" width="31.43" height="17.29" fill="#0055ff"/>
<rect x="223.15" y="390.11" width="31.43" height="17.29" fill="#00eaff"/>
<rect x="254.28" y="390.11" width="31.43" height="17.29" fill="#55ffaa"/>
<rect x="285.41" y="390.11" width="31.43" height="17.29" fill="#0080ff"/>
<rect x="316.54" y="390.11" width="62.56" height="17.29" fill="#0055ff"/>
<rect x="378.80" y="390.11" width="31.43" height="17.29" fill="#00d4ff"/>
<rect x="409.93" y="390.11" width="31.43" height="17.29" fill="#0080ff"/>
<rect x="441.07" y="390.11" width="31.43" height="17.29" fill="#00aaff"/>
<rect x="472.20" y="390.11" width="31.43" height="17.29" fill="#0015ff"/>
<rect x="503.33" y="390.11" width="31.43" height="17.29" fill="#0000bf"/>
<rect x="534.46" y="390.11" width="31.43" height="17.29" fill="#0000d4"/>
<rect x="565.59" y="390.11" width="31.43" height="17.29" fill="#0000ff"/>
<rect x="596.72" y="390.11" width="31.43" height="17.29" fill="#0055ff"/>
<rect x="627.85" y="390.11" width="31.43" height="17.29" fill="#00008f"/>
<rect x="658.98" y="390.11" width="31.43" height="17.29" fill="#0000aa"/>
<rect x="690.11" y="390.11" width="93.69" height="17.29" fill="#00008f"/>
</g>
<rect class="k" x="67.50" y="33.30" width="716.00" height="373.80"/>
<path class="k" d="M83.07 407.10 v-7.20 M83.07 33.30 v7.20 M180.90 407.10 v-7.20 M180.90 33.30 v7.20 M278.74 407.10 v-7.20 M278.74 33.30 v7.20 M376.58 407.10 v-7.20 M376.58 33.30 v7.20 M474.42 407.10 v-7.20 M474.42 33.30 v7.20 M572.26 407.10 v-7.20 M572.26 33.30 v7.20 M670.10 407.10 v-7.20 M670.10 33.30 v7.20 M767.93 407.10 v-7.20 M767.93 33.30 v7.20 M67.50 41.80 h7.20 M783.50 41.80 h-7.20 M67.50 160.73 h7.20 M783.50 160.73 h-7.20 M67.50 279.67 h7.20 M783.50 279.67 h-7.20 M67.50 398.60 h7.20 M783.50 398.60 h-7.20"/>
<text class="x" transform="translate(83.07 426.10) scale(0.905 1)">0</text>
<text class="x" transform="translate(180.90 426.10) scale(0.905 1)">10</text>
<text class="x" transform="translate(278.74 426.10) scale(0.905 1)">20</text>
<text class="x" transform="translate(376.58 426.10) scale(0.905 1)">30</text>
<text class="x" transform="translate(474.42 426.10) scale(0.905 1)">40</text>
<text class="x" transform="translate(572.26 426.10) scale(0.905 1)">50</text>
<text class="x" transform="translate(670.10 426.10) scale(0.905 1)">60</text>
<text class="x" transform="translate(767.93 426.10) scale(0.905 1)">70</text>
<text class="y" transform="translate(62.00 47.20) scale(0.905 1)">0</text>
<text class="y" transform="translate(62.00 166.13) scale(0.905 1)">500</text>
<text class="y" transform="translate(62.00 285.07) scale(0.905 1)">1000</text>
<text class="y" transform="translate(62.00 404.00) scale(0.905 1)">1500</text>
<text class="t" x="425.50" y="24.90">a - Averaged 2D-FT of DVAV signals</text>
<text class="l" x="425.50" y="456.20">Spectral repetition (Hz)</text>
<text class="l" transform="translate(23.60 220.20) rotate(-90)">Frequency (Hz)</text>
</g>
<g id="panel-b">
<g shape-rendering="crispEdges">
<rect x="929.80" y="33.30" width="31.43" height="17.29" fill="#ff9500"/>
<rect x="960.93" y="33.30" width="31.43" height="17.29" fill="#00aaff"/>
<rect x="992.06" y="33.30" width="31.43" height="17.29" fill="#40ffbf"/>
<rect x="1023.19" y="33.30" width="31.43" height="17.29" fill="#00eaff"/>
<rect x="1054.32" y="33.30" width="31.43" height="17.29" fill="#00d4ff"/>
<rect x="1085.45" y="33.30" width="31.43" height="17.29" fill="#006aff"/>
<rect x="1116.58" y="33.30" width="31.43" height="17.29" fill="#0080ff"/>
<rect x="1147.71" y="33.30" width="62.56" height="17.29" fill="#00bfff"/>
<rect x="1209.97" y="33.30" width="31.43" height="17.29" fill="#0080ff"/>
<rect x="1241.10" y="33.30" width="31.43" height="17.29" fill="#00d4ff"/>
<rect x="1272.23" y="33.30" width="31.43" height="17.29" fill="#0080ff"/>
<rect x="1303.37" y="33.30" width="31.43" height="17.29" fill="#006aff"/>
<rect x="1334.50" y="33.30" width="62.56" height="17.29" fill="#0095ff"/>
<rect x="1396.76" y="33.30" width="31.43" height="17.29" fill="#006aff"/>
<rect x="1427.89" y="33.30" width="31.43" height="17.29" fill="#00aaff"/>
<rect x="1459.02" y="33.30" width="31.43" height="17.29" fill="#006aff"/>
<rect x="1490.15" y="33.30" width="31.43" height="17.29" fill="#00aaff"/>
<rect x="1521.28" y="33.30" width="31.43" height="17.29" fill="#006aff"/>
<rect x="1552.41" y="33.30" width="62.56" height="17.29" fill="#00bfff"/>
<rect x="1614.67" y="33.30" width="31.43" height="17.29" fill="#00d4ff"/>
<rect x="929.80" y="50.29" width="31.43" height="17.29" fill="#ff1500"/>
<rect x="960.93" y="50.29" width="31.43" height="17.29" fill="#00eaff"/>
<rect x="992.06" y="50.29" width="31.43" height="17.29" fill="#2bffd4"/>
<rect x="1023.19" y="50.29" width="31.43" height="17.29" fill="#00ffff"/>
<rect x="1054.32" y="50.29" width="93.69" height="17.29" fill="#00d4ff"/>
<rect x="1147.71" y="50.29" width="31.43" height="17.29" fill="#00eaff"/>
<rect x="1178.84" y="50.29" width="31.43" height="17.29" fill="#00ffff"/>
<rect x="1209.97" y="50.29" width="31.43" height="17.29" fill="#00d4ff"/>
<rect x="1241.10" y="50.29" width="62.56" height="17.29" fill="#00eaff"/>
<rect x="1303.37" y="50.29" width="31.43" height="17.29" fill="#00d4ff"/>
<rect x="1334.50" y="50.29" width="31.43" height="17.29" fill="#00eaff"/>
<rect x="1365.63" y="50.29" width="31.43" height="17.29" fill="#00d4ff"/>
<rect x="1396.76" y="50.29" width="31.43" height="17.29" fill="#0080ff"/>
<rect x="1427.89" y="50.29" width="31.43" height="17.29" fill="#0095ff"/>
<rect x="1459.02" y="50.29" width="31.43" height="17.29" fill="#0080ff"/>
<rect x="1490.15" y="50.29" width="31.43" height="17.29" fill="#00ffff"/>
<rect x="1521.28" y="50.29" width="31.43" height="17.29" fill="#00bfff"/>
<rect x="1552.41" y="50.29" width="31.43" height="17.29" fill="#00eaff"/>
<rect x="1583.54" y="50.29" width="31.43" height="17.29" fill="#00d4ff"/>
<rect x="1614.67" y="50.29" width="31.43" height="17.29" fill="#00aaff"/>
<rect x="929.80" y="67.28" width="31.43" height="17.29" fill="#800000"/>
<rect x="960.93" y="67.28" width="31.43" height="17.29" fill="#80ff80"/>
<rect x="992.06" y="67.28" width="31.43" height="17.29" fill="#aaff55"/>
<rect x="1023.19" y="67.28" width="31.43" height="17.29" fill="#eaff15"/>
<rect x="1054.32" y="67.28" width="31.43" height="17.29" fill="#d5ff2a"/>
<rect x="1085.45" y="67.28" width="31.43" height="17.29" fill="#aaff55"/>
<rect x="1116.58" y="67.28" width="93.69" height="17.29" fill="#d5ff2a"/>
<rect x="1209.97" y="67.28" width="31.43" height="17.29" fill="#00eaff"/>
<rect x="1241.10" y="67.28" width="31.43" height="17.29" fill="#aaff55"/>
<rect x="1272.23" y="67.28" width="31.43" height="17.29" fill="#40ffbf"/>
<rect x="1303.37" y="67.28" width="31.43" height="17.29" fill="#80ff80"/>
<rect x="1334.50" y="67.28" width="31.43" height="17.29" fill="#00eaff"/>
<rect x="1365.63" y="67.28" width="31.43" height="17.29" fill="#40ffbf"/>
<rect x="1396.76" y="67.28" width="31.43" height="17.29" fill="#0080ff"/>
<rect x="1427.89" y="67.28" width="31.43" height="17.29" fill="#15ffea"/>
<rect x="1459.02" y="67.28" width="31.43" height="17.29" fill="#0080ff"/>
<rect x="1490.15" y="67.28" width="31.43" height="17.29" fill="#00d4ff"/>
<rect x="1521.28" y="67.28" width="31.43" height="17.29" fill="#00bfff"/>
<rect x="1552.41" y="67.28" width="31.43" height="17.29" fill="#0080ff"/>
<rect x="1583.54" y="67.28" width="31.43" height="17.29" fill="#00bfff"/>
<rect x="1614.67" y="67.28" width="31.43" height="17.29" fill="#006aff"/>
<rect x="929.80" y="84.27" width="31.43" height="17.29" fill="#ff5500"/>
<rect x="960.93" y="84.27" width="31.43" height="17.29" fill="#00ffff"/>
<rect x="992.06" y="84.27" width="31.43" height="17.29" fill="#00d4ff"/>
<rect x="1023.19" y="84.27" width="31.43" height="17.29" fill="#00eaff"/>
<rect x="1054.32" y="84.27" width="31.43" height="17.29" fill="#00d4ff"/>
<rect x="1085.45" y="84.27" width="31.43" height="17.29" fill="#0095ff"/>
<rect x="1116.58" y="84.27" width="31.43" height="17.29" fill="#0080ff"/>
<rect x="1147.71" y="84.27" width="31.43" height="17.29" fill="#00aaff"/>
<rect x="1178.84" y="84.27" width="31.43" height="17.29" fill="#0080ff"/>
<rect x="1209.97" y="84.27" width="31.43" height="17.29" fill="#002aff"/>
<rect x="1241.10" y="84.27" width="31.43" height="17.29" fill="#0080ff"/>
<rect x="1272.23" y="84.27" width="31.43" height="17.29" fill="#00aaff"/>
<rect x="1303.37" y="84.27" width="31.43" height="17.29" fill="#0080ff"/>
<rect x="1334.50" y="84.27" width="31.43" height="17.29" fill="#00aaff"/>
<rect x="1365.63" y="84.27" width="31.43" height="17.29" fill="#002aff"/>
<rect x="1396.76" y="84.27" width="31.43" height="17.29" fill="#0095ff"/>
<rect x="1427.89" y="84.27" width="62.56" height="17.29" fill="#0080ff"/>
<rect x="1490.15" y="84.27" width="31.43" height="17.29" fill="#00d4ff"/>
<rect x="1521.28" y="84.27" width="31.43" height="17.29" fill="#00ffff"/>
<rect x="1552.41" y="84.27" width="62.56" height="17.29" fill="#00d4ff"/>
<rect x="1614.67" y="84.27" width="31.43" height="17.29" fill="#00aaff"/>
<rect x="929.80" y="101.26" width="31.43" height="17.29" fill="#ea0000"/>
<rect x="960.93" y="101.26" width="31.43" height="17.29" fill="#80ff80"/>
<rect x="992.06" y="101.26" width="31.43" height="17.29" fill="#95ff6a"/>
<rect x="1023.19" y="101.26" width="31.43" height="17.29" fill="#00ffff"/>
<rect x="1054.32" y="101.26" width="31.43" height="17.29" fill="#00d4ff"/>
<rect x="1085.45" y="101.26" width="31.43" height="17.29" fill="#00eaff"/>
<rect x="1116.58" y="101.26" width="31.43" height="17.29" fill="#2bffd4"/>
<rect x="1147.71" y="101.26" width="31.43" height="17.29" fill="#6aff95"/>
<rect x="1178.84" y="101.26" width="31.43" height="17.29" fill="#15ffea"/>
<rect x="1209.97" y="101.26" width="62.56" height="17.29" fill="#00ffff"/>
<rect x="1272.23" y="101.26" width="31.43" height="17.29" fill="#15ffea"/>
<rect x="1303.37" y="101.26" width="62.56" height="17.29" fill="#00d4ff"/>
<rect x="1365.63" y="101.26" width="31.43" height="17.29" fill="#15ffea"/>
<rect x="1396.76" y="101.26" width="31.43" height="17.29" fill="#00ffff"/>
<rect x="1427.89" y="101.26" width="31.43" height="17.29" fill="#00bfff"/>
<rect x="1459.02" y="101.26" width="31.43" height="17.29" fill="#0095ff"/>
<rect x="1490.15" y="101.26" width="31.43" height="17.29" fill="#15ffea"/>
<rect x="1521.28" y="101.26" width="62.56" height="17.29" fill="#00d4ff"/>
<rect x="1583.54" y="101.26" width="31.43" height="17.29" fill="#00bfff"/>
<rect x="1614.67" y="101.26" width="31.43" height="17.29" fill="#00eaff"/>
<rect x="929.80" y="118.25" width="31.43" height="17.29" fill="#ff2a00"/>
<rect x="960.93" y="118.25" width="31.43" height="17.29" fill="#00ffff"/>
<rect x="992.06" y="118.25" width="31.43" height="17.29" fill="#2bffd4"/>
<rect x="1023.19" y="118.25" width="31.43" height="17.29" fill="#15ffea"/>
<rect x="1054.32" y="118.25" width="62.56" height="17.29" fill="#00eaff"/>
<rect x="1116.58" y="118.25" width="31.43" height="17.29" fill="#0080ff"/>
<rect x="1147.71" y="118.25" width="31.43" height="17.29" fill="#00d4ff"/>
<rect x="1178.84" y="118.25" width="31.43" height="17.29" fill="#0055ff"/>
<rect x="1209.97" y="118.25" width="31.43" height="17.29" fill="#00aaff"/>
<rect x="1241.10" y="118.25" width="31.43" height="17.29" fill="#0080ff"/>
<rect x="1272.23" y="118.25" width="62.56" height="17.29" fill="#0040ff"/>
<rect x="1334.50" y="118.25" width="31.43" height="17.29" fill="#0080ff"/>
<rect x="1365.63" y="118.25" width="31.43" height="17.29" fill="#00bfff"/>
<rect x="1396.76" y="118.25" width="31.43" height="17.29" fill="#002aff"/>
<rect x="1427.89" y="118.25" width="31.43" height="17.29" fill="#00bfff"/>
<rect x="1459.02" y="118.25" width="31.43" height="17.29" fill="#006aff"/>
<rect x="1490.15" y="118.25" width="31.43" height="17.29" fill="#00bfff"/>
<rect x="1521.28" y="118.25" width="31.43" height="17.29" fill="#00aaff"/>
<rect x="1552.41" y="118.25" width="62.56" height="17.29" fill="#006aff"/>
<rect x="1614.67" y="118.25" width="31.43" height="17.29" fill="#0095ff"/>
<rect x="929.80" y="135.25" width="31.43" height="17.29" fill="#ff5500"/>
<rect x="960.93" y="135.25" width="31.43" height="17.29" fill="#15ffea"/>
<rect x="992.06" y="135.25" width="31.43" height="17.29" fill="#0080ff"/>
<rect x="1023.19" y="135.25" width="31.43" height="17.29" fill="#00aaff"/>
<rect x="1054.32" y="135.25" width="31.43" height="17.29" fill="#00bfff"/>
<rect x="1085.45" y="135.25" width="31.43" height="17.29" fill="#00d4ff"/>
<rect x="1116.58" y="135.25" width="31.43" height="17.29" fill="#00aaff"/>
<rect x="1147.71" y="135.25" width="31.43" height="17.29" fill="#00d4ff"/>
<rect x="1178.84" y="135.25" width="31.43" height="17.29" fill="#0080ff"/>
<rect x="1209.97" y="135.25" width="31.43" height="17.29" fill="#00d4ff"/>
<rect x="1241.10" y="135.25" width="31.43" height="17.29" fill="#00aaff"/>
<rect x="1272.23" y="135.25" width="31.43" height="17.29" fill="#00d4ff"/>
<rect x="1303.37" y="135.25" width="31.43" height="17.29" fill="#00aaff"/>
<rect x="1334.50" y="135.25" width="62.56" height="17.29" fill="#006aff"/>
<rect x="1396.76" y="135.25" width="31.43" height="17.29" fill="#0095ff"/>
<rect x="1427.89" y="135.25" width="31.43" height="17.29" fill="#0055ff"/>
<rect x="1459.02" y="135.25" width="93.69" height="17.29" fill="#0080ff"/>
<rect x="1552.41" y="135.25" width="31.43" height="17.29" fill="#0055ff"/>
<rect x="1583.54" y="135.25" width="31.43" height="17.29" fill="#0015ff"/>
<rect x="1614.67" y="135.25" width="31.43" height="17.29" fill="#0080ff"/>
<rect x="929.80" y="152.24" width="31.43" height="17.29" fill="#ea0000"/>
<rect x="960.93" y="152.24" width="31.43" height="17.29" fill="#ffea00"/>
<rect x="992.06" y="152.24" width="31.43" height="17.29" fill="#d5ff2a"/>
<rect x="1023.19" y="152.24" width="62.56" height="17.29" fill="#aaff55"/>
<rect x="1085.45" y="152.24" width="31.43" height="17.29" fill="#15ffea"/>
<rect x="1116.58" y="152.24" width="31.43" height="17.29" fill="#2bffd4"/>
<rect x="1147.71" y="152.24" width="31.43" height="17.29" fill="#15ffea"/>
<rect x="1178.84" y="152.24" width="31.43" height="17.29" fill="#00bfff"/>
<rect x="1209.97" y="152.24" width="31.43" height="17.29" fill="#00aaff"/>
<rect x="1241.10" y="152.24" width="31.43" height="17.29" fill="#00d4ff"/>
<rect x="1272.23" y="152.24" width="31.43" height="17.29" fill="#00ffff"/>
<rect x="1303.37" y="152.24" width="31.43" height="17.29" fill="#0095ff"/>
<rect x="1334.50" y="152.24" width="31.43" height="17.29" fill="#0055ff"/>
<rect x="1365.63" y="152.24" width="31.43" height="17.29" fill="#00aaff"/>
<rect x="1396.76" y="152.24" width="62.56" height="17.29" fill="#0055ff"/>
<rect x="1459.02" y="152.24" width="31.43" height="17.29" fill="#00d4ff"/>
<rect x="1490.15" y="152.24" width="31.43" height="17.29" fill="#00bfff"/>
<rect x="1521.28" y="152.24" width="31.43" height="17.29" fill="#006aff"/>
<rect x="1552.41" y="152.24" width="31.43" height="17.29" fill="#00aaff"/>
<rect x="1583.54" y="152.24" width="62.56" height="17.29" fill="#00d4ff"/>
<rect x="929.80" y="169.23" width="31.43" height="17.29" fill="#ff4000"/>
<rect x="960.93" y="169.23" width="31.43" height="17.29" fill="#aaff55"/>
<rect x="992.06" y="169.23" width="31.43" height="17.29" fill="#2bffd4"/>
<rect x="1023.19" y="169.23" width="62.56" height="17.29" fill="#00d4ff"/>
<rect x="1085.45" y="169.23" width="62.56" height="17.29" fill="#0095ff"/>
<rect x="1147.71" y="169.23" width="31.43" height="17.29" fill="#00eaff"/>
<rect x="1178.84" y="169.23" width="31.43" height="17.29" fill="#00d4ff"/>
<rect x="1209.97" y="169.23" width="31.43" height="17.29" fill="#00aaff"/>
<rect x="1241.10" y="169.23" width="31.43" height="17.29" fill="#0095ff"/>
<rect x="1272.23" y="169.23" width="31.43" height="17.29" fill="#00bfff"/>
<rect x="1303.37" y="169.23" width="31.43" height="17.29" fill="#00aaff"/>
<rect x="1334.50" y="169.23" width="31.43" height="17.29" fill="#0080ff"/>
<rect x="1365.63" y="169.23" width="93.69" height="17.29" fill="#0095ff"/>
<rect x="1459.02" y="169.23" width="62.56" height="17.29" fill="#0080ff"/>
<rect x="1521.28" y="169.23" width="31.43" height="17.29" fill="#006aff"/>
<rect x="1552.41" y="169.23" width="31.43" height="17.29" fill="#0055ff"/>
<rect x="1583.54" y="169.23" width="31.43" height="17.29" fill="#006aff"/>
<rect x="1614.67" y="169.23" width="31.43" height="17.29" fill="#0095ff"/>
<rect x="929.80" y="186.22" width="31.43" height="17.29" fill="#ff8000"/>
<rect x="960.93" y="186.22" width="31.43" height="17.29" fill="#15ffea"/>
<rect x="992.06" y="186.22" width="31.43" height="17.29" fill="#00aaff"/>
<rect x="1023.19" y="186.22" width="31.43" height="17.29" fill="#0055ff"/>
<rect x="1054.32" y="186.22" width="31.43" height="17.29" fill="#00d4ff"/>
<rect x="1085.45" y="186.22" width="62.56" height="17.29" fill="#0095ff"/>
<rect x="1147.71" y="186.22" width="62.56" height="17.29" fill="#0080ff"/>
<rect x="1209.97" y="186.22" width="31.43" height="17.29" fill="#0055ff"/>
<rect x="1241.10" y="186.22" width="31.43" height="17.29" fill="#0015ff"/>
<rect x="1272.23" y="186.22" width="31.43" height="17.29" fill="#0080ff"/>
<rect x="1303.37" y="186.22" width="93.69" height="17.29" fill="#0040ff"/>
<rect x="1396.76" y="186.22" width="31.43" height="17.29" fill="#0055ff"/>
<rect x="1427.89" y="186.22" width="31.43" height="17.29" fill="#0080ff"/>
<rect x="1459.02" y="186.22" width="31.43" height="17.29" fill="#0055ff"/>
<rect x="1490.15" y="186.22" width="31.43" height="17.29" fill="#002aff"/>
<rect x="1521.28" y="186.22" width="31.43" height="17.29" fill="#0055ff"/>
<rect x="1552.41" y="186.22" width="31.43" height="17.29" fill="#002aff"/>
<rect x="1583.54" y="186.22" width="31.43" height="17.29" fill="#0080ff"/>
<rect x="1614.67" y="186.22" width="31.43" height="17.29" fill="#0000bf"/>
<rect x="929.80" y="203.21" width="31.43" height="17.29" fill="#ff1500"/>
<rect x="960.93" y="203.21" width="31.43" height="17.29" fill="#d5ff2a"/>
<rect x="992.06" y="203.21" width="62.56" height="17.29" fill="#80ff80"/>
<rect x="1054.32" y="203.21" width="31.43" height="17.29" fill="#40ffbf"/>
<rect x="1085.45" y="203.21" width="31.43" height="17.29" fill="#0095ff"/>
<rect x="1116.58" y="203.21" width="31.43" height="17.29" fill="#00aaff"/>
<rect x="1147.71" y="203.21" width="31.43" height="17.29" fill="#2bffd4"/>
<rect x="1178.84" y="203.21" width="31.43" height="17.29" fill="#55ffaa"/>
<rect x="1209.97" y="203.21" width="31.43" height="17.29" fill="#00bfff"/>
<rect x="1241.10" y="203.21" width="31.43" height="17.29" fill="#00ffff"/>
<rect x="1272.23" y="203.21" width="62.56" height="17.29" fill="#40ffbf"/>
<rect x="1334.50" y="203.21" width="31.43" height="17.29" fill="#00d4ff"/>
<rect x="1365.63" y="203.21" width="31.43" height="17.29" fill="#00aaff"/>
<rect x="1396.76" y="203.21" width="31.43" height="17.29" fill="#00bfff"/>
<rect x="1427.89" y="203.21" width="31.43" height="17.29" fill="#00d4ff"/>
<rect x="1459.02" y="203.21" width="31.43" height="17.29" fill="#0000ff"/>
<rect x="1490.15" y="203.21" width="31.43" height="17.29" fill="#0015ff"/>
<rect x="1521.28" y="203.21" width="31.43" height="17.29" fill="#0000ff"/>
<rect x="1552.41" y="203.21" width="31.43" height="17.29" fill="#006aff"/>
<rect x="1583.54" y="203.21" width="31.43" height="17.29" fill="#0095ff"/>
<rect x="1614.67" y="203.21" width="31.43" height="17.29" fill="#00bfff"/>
<rect x="929.80" y="220.20" width="31.43" height="17.29" fill="#950000"/>
<rect x="960.93" y="220.20" width="31.43" height="17.29" fill="#ff4000"/>
<rect x="992.06" y="220.20" width="31.43" height="17.29" fill="#ffd500"/>
<rect x="1023.19" y="220.20" width="31.43" height="17.29" fill="#95ff6a"/>
<rect x="1054.32" y="220.20" width="31.43" height="17.29" fill="#d5ff2a"/>
<rect x="1085.45" y="220.20" width="31.43" height="17.29" fill="#eaff15"/>
<rect x="1116.58" y="220.20" width="31.43" height="17.29" fill="#d5ff2a"/>
<rect x="1147.71" y="220.20" width="31.43" height="17.29" fill="#95ff6a"/>
<rect x="1178.84" y="220.20" width="62.56" height="17.29" fill="#aaff55"/>
<rect x="1241.10" y="220.20" width="31.43" height="17.29" fill="#2bffd4"/>
<rect x="1272.23" y="220.20" width="31.43" height="17.29" fill="#6aff95"/>
<rect x="1303.37" y="220.20" width="31.43" height="17.29" fill="#55ffaa"/>
<rect x="1334.50" y="220.20" width="31.43" height="17.29" fill="#2bffd4"/>
<rect x="1365.63" y="220.20" width="31.43" height="17.29" fill="#15ffea"/>
<rect x="1396.76" y="220.20" width="31.43" height="17.29" fill="#00aaff"/>
<rect x="1427.89" y="220.20" width="31.43" height="17.29" fill="#00d4ff"/>
<rect x="1459.02" y="220.20" width="31.43" height="17.29" fill="#00bfff"/>
<rect x="1490.15" y="220.20" width="31.43" height="17.29" fill="#0055ff"/>
<rect x="1521.28" y="220.20" width="31.43" height="17.29" fill="#0080ff"/>
<rect x="1552.41" y="220.20" width="62.56" height="17.29" fill="#0055ff"/>
<rect x="1614.67" y="220.20" width="31.43" height="17.29" fill="#0080ff"/>
<rect x="929.80" y="237.19" width="31.43" height="17.29" fill="#ff0000"/>
<rect x="960.93" y="237.19" width="31.43" height="17.29" fill="#ffaa00"/>
<rect x="992.06" y="237.19" width="31.43" height="17.29" fill="#ffff00"/>
<rect x="1023.19" y="237.19" width="31.43" height="17.29" fill="#bfff40"/>
<rect x="1054.32" y="237.19" width="31.43" height="17.29" fill="#d5ff2a"/>
<rect x="1085.45" y="237.19" width="31.43" height="17.29" fill="#bfff40"/>
<rect x="1116.58" y="237.19" width="31.43" height="17.29" fill="#6aff95"/>
<rect x="1147.71" y="237.19" width="31.43" height="17.29" fill="#40ffbf"/>
<rect x="1178.84" y="237.19" width="31.43" height="17.29" fill="#15ffea"/>
<rect x="1209.97" y="237.19" width="31.43" height="17.29" fill="#00ffff"/>
<rect x="1241.10" y="237.19" width="31.43" height="17.29" fill="#2bffd4"/>
<rect x="1272.23" y="237.19" width="31.43" height="17.29" fill="#00d4ff"/>
<rect x="1303.37" y="237.19" width="31.43" height="17.29" fill="#00ffff"/>
<rect x="1334.50" y="237.19" width="31.43" height="17.29" fill="#00bfff"/>
<rect x="1365.63" y="237.19" width="31.43" height="17.29" fill="#00aaff"/>
<rect x="1396.76" y="237.19" width="62.56" height="17.29" fill="#0095ff"/>
<rect x="1459.02" y="237.19" width="31.43" height="17.29" fill="#00aaff"/>
<rect x="1490.15" y="237.19" width="31.43" height="17.29" fill="#0095ff"/>
<rect x="1521.28" y="237.19" width="31.43" height="17.29" fill="#0080ff"/>
<rect x="1552.41" y="237.19" width="31.43" height="17.29" fill="#0055ff"/>
<rect x="1583.54" y="237.19" width="31.43" height="17.29" fill="#0015ff"/>
<rect x="1614.67" y="237.19" width="31.43" height="17.29" fill="#002aff"/>
<rect x="929.80" y="254.18" width="31.43" height="17.29" fill="#ff5500"/>
<rect x="960.93" y="254.18" width="31.43" height="17.29" fill="#d5ff2a"/>
<rect x="992.06" y="254.18" width="31.43" height="17.29" fill="#55ffaa"/>
<rect x="1023.19" y="254.18" width="31.43" height="17.29" fill="#2bffd4"/>
<rect x="1054.32" y="254.18" width="31.43" height="17.29" fill="#00d4ff"/>
<rect x="1085.45" y="254.18" width="62.56" height="17.29" fill="#00aaff"/>
<rect x="1147.71" y="254.18" width="31.43" height="17.29" fill="#00d4ff"/>
<rect x="1178.84" y="254.18" width="31.43" height="17.29" fill="#006aff"/>
<rect x="1209.97" y="254.18" width="31.43" height="17.29" fill="#0080ff"/>
<rect x="1241.10" y="254.18" width="62.56" height="17.29" fill="#00bfff"/>
<rect x="1303.37" y="254.18" width="31.43" height="17.29" fill="#00d4ff"/>
<rect x="1334.50" y="254.18" width="31.43" height="17.29" fill="#00aaff"/>
<rect x="1365.63" y="254.18" width="31.43" height="17.29" fill="#0080ff"/>
<rect x="1396.76" y="254.18" width="31.43" height="17.29" fill="#006aff"/>
<rect x="1427.89" y="254.18" width="31.43" height="17.29" fill="#0015ff"/>
<rect x="1459.02" y="254.18" width="31.43" height="17.29" fill="#002aff"/>
<rect x="1490.15" y="254.18" width="31.43" height="17.29" fill="#0015ff"/>
<rect x="1521.28" y="254.18" width="124.82" height="17.29" fill="#0080ff"/>
<rect x="929.80" y="271.17" width="31.43" height="17.29" fill="#ff5500"/>
<rect x="960.93" y="271.17" width="31.43" height="17.29" fill="#ffff00"/>
<rect x="992.06" y="271.17" width="31.43" height="17.29" fill="#95ff6a"/>
<rect x="1023.19" y="271.17" width="31.43" height="17.29" fill="#80ff80"/>
<rect x="1054.32" y="271.17" width="62.56" height="17.29" fill="#2bffd4"/>
<rect x="1116.58" y="271.17" width="31.43" height="17.29" fill="#00ffff"/>
<rect x="1147.71" y="271.17" width="31.43" height="17.29" fill="#00d4ff"/>
<rect x="1178.84" y="271.17" width="31.43" height="17.29" fill="#00aaff"/>
<rect x="1209.97" y="271.17" width="62.56" height="17.29" fill="#0080ff"/>
<rect x="1272.23" y="271.17" width="31.43" height="17.29" fill="#0055ff"/>
<rect x="1303.37" y="271.17" width="31.43" height="17.29" fill="#0095ff"/>
<rect x="1334.50" y="271.17" width="62.56" height="17.29" fill="#00aaff"/>
<rect x="1396.76" y="271.17" width="124.82" height="17.29" fill="#0080ff"/>
<rect x="1521.28" y="271.17" width="31.43" height="17.29" fill="#0000aa"/>
<rect x="1552.41" y="271.17" width="62.56" height="17.29" fill="#0055ff"/>
<rect x="1614.67" y="271.17" width="31.43" height="17.29" fill="#0015ff"/>
<rect x="929.80" y="288.16" width="31.43" height="17.29" fill="#ffaa00"/>
<rect x="960.93" y="288.16" width="31.43" height="17.29" fill="#aaff55"/>
<rect x="992.06" y="288.16" width="31.43" height="17.29" fill="#2bffd4"/>
<rect x="1023.19" y="288.16" width="31.43" height="17.29" fill="#00bfff"/>
<rect x="1054.32" y="288.16" width="31.43" height="17.29" fill="#006aff"/>
<rect x="1085.45" y="288.16" width="31.43" height="17.29" fill="#00bfff"/>
<rect x="1116.58" y="288.16" width="31.43" height="17.29" fill="#00aaff"/>
<rect x="1147.71" y="288.16" width="31.43" height="17.29" fill="#0055ff"/>
<rect x="1178.84" y="288.16" width="31.43" height="17.29" fill="#0080ff"/>
<rect x="1209.97" y="288.16" width="31.43" height="17.29" fill="#00d4ff"/>
<rect x="1241.10" y="288.16" width="31.43" height="17.29" fill="#00bfff"/>
<rect x="1272.23" y="288.16" width="62.56" height="17.29" fill="#006aff"/>
<rect x="1334.50" y="288.16" width="62.56" height="17.29" fill="#002aff"/>
<rect x="1396.76" y="288.16" width="31.43" height="17.29" fill="#0000ff"/>
<rect x="1427.89" y="288.16" width="62.56" height="17.29" fill="#002aff"/>
<rect x="1490.15" y="288.16" width="31.43" height="17.29" fill="#0015ff"/>
<rect x="1521.28" y="288.16" width="31.43" height="17.29" fill="#0000ea"/>
<rect x="1552.41" y="288.16" width="62.56" height="17.29" fill="#0015ff"/>
<rect x="1614.67" y="288.16" width="31.43" height="17.29" fill="#000095"/>
<rect x="929.80" y="305.15" width="31.43" height="17.29" fill="#ffd500"/>
<rect x="960.93" y="305.15" width="31.43" height="17.29" fill="#40ffbf"/>
<rect x="992.06" y="305.15" width="31.43" height="17.29" fill="#00d4ff"/>
<rect x="1023.19" y="305.15" width="62.56" height="17.29" fill="#0080ff"/>
<rect x="1085.45" y="305.15" width="62.56" height="17.29" fill="#0055ff"/>
<rect x="1147.71" y="305.15" width="31.43" height="17.29" fill="#006aff"/>
<rect x="1178.84" y="305.15" width="31.43" height="17.29" fill="#0055ff"/>
<rect x="1209.97" y="305.15" width="31.43" height="17.29" fill="#002aff"/>
<rect x="1241.10" y="305.15" width="93.69" height="17.29" fill="#0000ff"/>
<rect x="1334.50" y="305.15" width="31.43" height="17.29" fill="#0000ea"/>
<rect x="1365.63" y="305.15" width="31.43" height="17.29" fill="#0000d4"/>
<rect x="1396.76" y="305.15" width="31.43" height="17.29" fill="#0040ff"/>
<rect x="1427.89" y="305.15" width="31.43" height="17.29" fill="#00008f"/>
<rect x="1459.02" y="305.15" width="31.43" height="17.29" fill="#002aff"/>
<rect x="1490.15" y="305.15" width="31.43" height="17.29" fill="#0000d4"/>
<rect x="1521.28" y="305.15" width="31.43" height="17.29" fill="#002aff"/>
<rect x="1552.41" y="305.15" width="62.56" height="17.29" fill="#0000ff"/>
<rect x="1614.67" y="305.15" width="31.43" height="17.29" fill="#0000d4"/>
<rect x="929.80" y="322.15" width="31.43" height="17.29" fill="#ffbf00"/>
<rect x="960.93" y="322.15" width="31.43" height="17.29" fill="#55ffaa"/>
<rect x="992.06" y="322.15" width="62.56" height="17.29" fill="#00d4ff"/>
<rect x="1054.32" y="322.15" width="31.43" height="17.29" fill="#00bfff"/>
<rect x="1085.45" y="322.15" width="31.43" height="17.29" fill="#0080ff"/>
<rect x="1116.58" y="322.15" width="31.43" height="17.29" fill="#0055ff"/>
<rect x="1147.71" y="322.15" width="31.43" height="17.29" fill="#0080ff"/>
<rect x="1178.84" y="322.15" width="31.43" height="17.29" fill="#0000ea"/>
<rect x="1209.97" y="322.15" width="31.43" height="17.29" fill="#002aff"/>
<rect x="1241.10" y="322.15" width="31.43" height="17.29" fill="#0080ff"/>
<rect x="1272.23" y="322.15" width="31.43" height="17.29" fill="#0040ff"/>
<rect x="1303.37" y="322.15" width="31.43" height="17.29" fill="#0055ff"/>
<rect x="1334.50" y="322.15" width="31.43" height="17.29" fill="#0000d4"/>
<rect x="1365.63" y="322.15" width="31.43" height="17.29" fill="#002aff"/>
<rect x="1396.76" y="322.15" width="62.56" height="17.29" fill="#0000d4"/>
<rect x="1459.02" y="322.15" width="31.43" height="17.29" fill="#0000ff"/>
<rect x="1490.15" y="322.15" width="155.95" height="17.29" fill="#0000d4"/>
<rect x="929.80" y="339.14" width="31.43" height="17.29" fill="#ffaa00"/>
<rect x="960.93" y="339.14" width="31.43" height="17.29" fill="#6aff95"/>
<rect x="992.06" y="339.14" width="31.43" height="17.29" fill="#2bffd4"/>
<rect x="1023.19" y="339.14" width="31.43" height="17.29" fill="#0055ff"/>
<rect x="1054.32" y="339.14" width="62.56" height="17.29" fill="#00bfff"/>
<rect x="1116.58" y="339.14" width="31.43" height="17.29" fill="#00aaff"/>
<rect x="1147.71" y="339.14" width="31.43" height="17.29" fill="#0095ff"/>
<rect x="1178.84" y="339.14" width="62.56" height="17.29" fill="#00aaff"/>
<rect x="1241.10" y="339.14" width="31.43" height="17.29" fill="#0095ff"/>
<rect x="1272.23" y="339.14" width="31.43" height="17.29" fill="#0055ff"/>
<rect x="1303.37" y="339.14" width="31.43" height="17.29" fill="#006aff"/>
<rect x="1334.50" y="339.14" width="31.43" height="17.29" fill="#0055ff"/>
<rect x="1365.63" y="339.14" width="31.43" height="17.29" fill="#0040ff"/>
<rect x="1396.76" y="339.14" width="31.43" height="17.29" fill="#0015ff"/>
<rect x="1427.89" y="339.14" width="31.43" height="17.29" fill="#0000d4"/>
<rect x="1459.02" y="339.14" width="31.43" height="17.29" fill="#0000ff"/>
<rect x="1490.15" y="339.14" width="93.69" height="17.29" fill="#0000ea"/>
<rect x="1583.54" y="339.14" width="62.56" height="17.29" fill="#0000d4"/>
<rect x="929.80" y="356.13" width="31.43" height="17.29" fill="#ff9500"/>
<rect x="960.93" y="356.13" width="31.43" height="17.29" fill="#d5ff2a"/>
<rect x="992.06" y="356.13" width="31.43" height="17.29" fill="#95ff6a"/>
<rect x="1023.19" y="356.13" width="31.43" height="17.29" fill="#6aff95"/>
<rect x="1054.32" y="356.13" width="31.43" height="17.29" fill="#40ffbf"/>
<rect x="1085.45" y="356.13" width="31.43" height="17.29" fill="#2bffd4"/>
<rect x="1116.58" y="356.13" width="31.43" height="17.29" fill="#00ffff"/>
<rect x="1147.71" y="356.13" width="31.43" height="17.29" fill="#00d4ff"/>
<rect x="1178.84" y="356.13" width="31.43" height="17.29" fill="#0055ff"/>
<rect x="1209.97" y="356.13" width="31.43" height="17.29" fill="#0095ff"/>
<rect x="1241.10" y="356.13" width="31.43" height="17.29" fill="#0080ff"/>
<rect x="1272.23" y="356.13" width="62.56" height="17.29" fill="#002aff"/>
<rect x="1334.50" y="356.13" width="31.43" height="17.29" fill="#0040ff"/>
<rect x="1365.63" y="356.13" width="31.43" height="17.29" fill="#002aff"/>
<rect x="1396.76" y="356.13" width="31.43" height="17.29" fill="#0055ff"/>
<rect x="1427.89" y="356.13" width="31.43" height="17.29" fill="#0000ea"/>
<rect x="1459.02" y="356.13" width="31.43" height="17.29" fill="#0000d4"/>
<rect x="1490.15" y="356.13" width="31.43" height="17.29" fill="#0000bf"/>
<rect x="1521.28" y="356.13" width="31.43" height="17.29" fill="#000095"/>
<rect x="1552.41" y="356.13" width="93.69" height="17.29" fill="#0000aa"/>
<rect x="929.80" y="373.12" width="31.43" height="17.29" fill="#ffd500"/>
<rect x="960.93" y="373.12" width="31.43" height="17.29" fill="#55ffaa"/>
<rect x="992.06" y="373.12" width="31.43" height="17.29" fill="#15ffea"/>
<rect x="1023.19" y="373.12" width="31.43" height="17.29" fill="#00d4ff"/>
<rect x="1054.32" y="373.12" width="31.43" height="17.29" fill="#00aaff"/>
<rect x="1085.45" y="373.12" width="31.43" height="17.29" fill="#006aff"/>
<rect x="1116.58" y="373.12" width="31.43" height="17.29" fill="#0080ff"/>
<rect x="1147.71" y="373.12" width="31.43" height="17.29" fill="#0095ff"/>
<rect x="1178.84" y="373.12" width="31.43" height="17.29" fill="#0055ff"/>
<rect x="1209.97" y="373.12" width="31.43" height="17.29" fill="#002aff"/>
<rect x="1241.10" y="373.12" width="93.69" height="17.29" fill="#0040ff"/>
<rect x="1334.50" y="373.12" width="31.43" height="17.29" fill="#0000ff"/>
<rect x="1365.63" y="373.12" width="31.43" height="17.29" fill="#002aff"/>
<rect x="1396.76" y="373.12" width="31.43" height="17.29" fill="#0000aa"/>
<rect x="1427.89" y="373.12" width="31.43" height="17.29" fill="#0000d4"/>
<rect x="1459.02" y="373.12" width="31.43" height="17.29" fill="#0000bf"/>
<rect x="1490.15" y="373.12" width="62.56" height="17.29" fill="#002aff"/>
<rect x="1552.41" y="373.12" width="31.43" height="17.29" fill="#0000d4"/>
<rect x="1583.54" y="373.12" width="31.43" height="17.29" fill="#0000aa"/>
<rect x="1614.67" y="373.12" width="31.43" height="17.29" fill="#0000ea"/>
<rect x="929.80" y="390.11" width="31.43" height="17.29" fill="#ffea00"/>
<rect x="960.93" y="390.11" width="31.43" height="17.29" fill="#6aff95"/>
<rect x="992.06" y="390.11" width="31.43" height="17.29" fill="#00eaff"/>
<rect x="1023.19" y="390.11" width="31.43" height="17.29" fill="#00d4ff"/>
<rect x="1054.32" y="390.11" width="31.43" height="17.29" fill="#00aaff"/>
<rect x="1085.45" y="390.11" width="31.43" height="17.29" fill="#002aff"/>
<rect x="1116.58" y="390.11" width="62.56" height="17.29" fill="#0040ff"/>
<rect x="1178.84" y="390.11" width="31.43" height="17.29" fill="#0080ff"/>
<rect x="1209.97" y="390.11" width="31.43" height="17.29" fill="#0000ff"/>
<rect x="1241.10" y="390.11" width="31.43" height="17.29" fill="#0000d4"/>
<rect x="1272.23" y="390.11" width="31.43" height="17.29" fill="#0055ff"/>
<rect x="1303.37" y="390.11" width="31.43" height="17.29" fill="#0015ff"/>
<rect x="1334.50" y="390.11" width="62.56" height="17.29" fill="#002aff"/>
<rect x="1396.76" y="390.11" width="93.69" height="17.29" fill="#0000ff"/>
<rect x="1490.15" y="390.11" width="31.43" height="17.29" fill="#0040ff"/>
<rect x="1521.28" y="390.11" width="31.43" height="17.29" fill="#0015ff"/>
<rect x="1552.41" y="390.11" width="31.43" height="17.29" fill="#0000d4"/>
<rect x="1583.54" y="390.11" width="31.43" height="17.29" fill="#0000ff"/>
<rect x="1614.67" y="390.11" width="31.43" height="17.29" fill="#0000d4"/>
</g>
<rect class="k" x="929.80" y="33.30" width="716.00" height="373.80"/>
<path class="k" d="M945.37 407.10 v-7.20 M945.37 33.30 v7.20 M1043.20 407.10 v-7.20 M1043.20 33.30 v7.20 M1141.04 407.10 v-7.20 M1141.04 33.30 v7.20 M1238.88 407.10 v-7.20 M1238.88 33.30 v7.20 M1336.72 407.10 v-7.20 M1336.72 33.30 v7.20 M1434.56 407.10 v-7.20 M1434.56 33.30 v7.20 M1532.40 407.10 v-7.20 M1532.40 33.30 v7.20 M1630.23 407.10 v-7.20 M1630.23 33.30 v7.20 M929.80 41.80 h7.20 M1645.80 41.80 h-7.20 M929.80 160.73 h7.20 M1645.80 160.73 h-7.20 M929.80 279.67 h7.20 M1645.80 279.67 h-7.20 M929.80 398.60 h7.20 M1645.80 398.60 h-7.20"/>
<text class="x" transform="translate(945.37 426.10) scale(0.905 1)">0</text>
<text class="x" transform="translate(1043.20 426.10) scale(0.905 1)">10</text>
<text class="x" transform="translate(1141.04 426.10) scale(0.905 1)">20</text>
<text class="x" transform="translate(1238.88 426.10) scale(0.905 1)">30</text>
<text class="x" transform="translate(1336.72 426.10) scale(0.905 1)">40</text>
<text class="x" transform="translate(1434.56 426.10) scale(0.905 1)">50</text>
<text class="x" transform="translate(1532.40 426.10) scale(0.905 1)">60</text>
<text class="x" transform="translate(1630.23 426.10) scale(0.905 1)">70</text>
<text class="y" transform="translate(924.30 47.20) scale(0.905 1)">0</text>
<text class="y" transform="translate(924.30 166.13) scale(0.905 1)">500</text>
<text class="y" transform="translate(924.30 285.07) scale(0.905 1)">1000</text>
<text class="y" transform="translate(924.30 404.00) scale(0.905 1)">1500</text>
<text class="t" x="1287.80" y="24.90">b - Averaged 2D-FT of worker pipe signals</text>
<text class="l" x="1287.80" y="456.20">Spectral repetition (Hz)</text>
<text class="l" transform="translate(885.90 220.20) rotate(-90)">Frequency (Hz)</text>
</g>
<g id="panel-c">
<g shape-rendering="crispEdges">
<rect x="67.50" y="552.40" width="31.43" height="17.29" fill="#ff4000"/>
<rect x="98.63" y="552.40" width="31.43" height="17.29" fill="#80ff80"/>
<rect x="129.76" y="552.40" width="31.43" height="17.29" fill="#55ffaa"/>
<rect x="160.89" y="552.40" width="31.43" height="17.29" fill="#40ffbf"/>
<rect x="192.02" y="552.40" width="31.43" height="17.29" fill="#2bffd4"/>
<rect x="223.15" y="552.40" width="31.43" height="17.29" fill="#00aaff"/>
<rect x="254.28" y="552.40" width="31.43" height="17.29" fill="#00d4ff"/>
<rect x="285.41" y="552.40" width="62.56" height="17.29" fill="#00ffff"/>
<rect x="347.67" y="552.40" width="31.43" height="17.29" fill="#00eaff"/>
<rect x="378.80" y="552.40" width="31.43" height="17.29" fill="#00ffff"/>
<rect x="409.93" y="552.40" width="31.43" height="17.29" fill="#00d4ff"/>
<rect x="441.07" y="552.40" width="31.43" height="17.29" fill="#00eaff"/>
<rect x="472.20" y="552.40" width="31.43" height="17.29" fill="#00aaff"/>
<rect x="503.33" y="552.40" width="31.43" height="17.29" fill="#00ffff"/>
<rect x="534.46" y="552.40" width="31.43" height="17.29" fill="#00eaff"/>
<rect x="565.59" y="552.40" width="31.43" height="17.29" fill="#2bffd4"/>
<rect x="596.72" y="552.40" width="31.43" height="17.29" fill="#15ffea"/>
<rect x="627.85" y="552.40" width="31.43" height="17.29" fill="#2bffd4"/>
<rect x="658.98" y="552.40" width="31.43" height="17.29" fill="#95ff6a"/>
<rect x="690.11" y="552.40" width="31.43" height="17.29" fill="#00eaff"/>
<rect x="721.24" y="552.40" width="31.43" height="17.29" fill="#15ffea"/>
<rect x="752.37" y="552.40" width="31.43" height="17.29" fill="#80ff80"/>
<rect x="67.50" y="569.39" width="31.43" height="17.29" fill="#ff1500"/>
<rect x="98.63" y="569.39" width="31.43" height="17.29" fill="#6aff95"/>
<rect x="129.76" y="569.39" width="31.43" height="17.29" fill="#15ffea"/>
<rect x="160.89" y="569.39" width="31.43" height="17.29" fill="#00ffff"/>
<rect x="192.02" y="569.39" width="31.43" height="17.29" fill="#40ffbf"/>
<rect x="223.15" y="569.39" width="31.43" height="17.29" fill="#00ffff"/>
<rect x="254.28" y="569.39" width="31.43" height="17.29" fill="#00aaff"/>
<rect x="285.41" y="569.39" width="31.43" height="17.29" fill="#00ffff"/>
<rect x="316.54" y="569.39" width="31.43" height="17.29" fill="#00d4ff"/>
<rect x="347.67" y="569.39" width="62.56" height="17.29" fill="#2bffd4"/>
<rect x="409.93" y="569.39" width="31.43" height="17.29" fill="#00eaff"/>
<rect x="441.07" y="569.39" width="31.43" height="17.29" fill="#2bffd4"/>
<rect x="472.20" y="569.39" width="62.56" height="17.29" fill="#00eaff"/>
<rect x="534.46" y="569.39" width="31.43" height="17.29" fill="#2bffd4"/>
<rect x="565.59" y="569.39" width="31.43" height="17.29" fill="#00d4ff"/>
<rect x="596.72" y="569.39" width="31.43" height="17.29" fill="#2bffd4"/>
<rect x="627.85" y="569.39" width="31.43" height="17.29" fill="#00ffff"/>
<rect x="658.98" y="569.39" width="31.43" height="17.29" fill="#2bffd4"/>
<rect x="690.11" y="569.39" width="31.43" height="17.29" fill="#55ffaa"/>
<rect x="721.24" y="569.39" width="31.43" height="17.29" fill="#00d4ff"/>
<rect x="752.37" y="569.39" width="31.43" height="17.29" fill="#2bffd4"/>
<rect x="67.50" y="586.38" width="31.43" height="17.29" fill="#800000"/>
<rect x="98.63" y="586.38" width="31.43" height="17.29" fill="#ffd500"/>
<rect x="129.76" y="586.38" width="31.43" height="17.29" fill="#ffff00"/>
<rect x="160.89" y="586.38" width="31.43" height="17.29" fill="#ffd500"/>
<rect x="192.02" y="586.38" width="31.43" height="17.29" fill="#95ff6a"/>
<rect x="223.15" y="586.38" width="31.43" height="17.29" fill="#aaff55"/>
<rect x="254.28" y="586.38" width="31.43" height="17.29" fill="#d5ff2a"/>
<rect x="285.41" y="586.38" width="31.43" height="17.29" fill="#aaff55"/>
<rect x="316.54" y="586.38" width="31.43" height="17.29" fill="#ffff00"/>
<rect x="347.67" y="586.38" width="31.43" height="17.29" fill="#ffd500"/>
<rect x="378.80" y="586.38" width="31.43" height="17.29" fill="#d5ff2a"/>
<rect x="409.93" y="586.38" width="31.43" height="17.29" fill="#40ffbf"/>
<rect x="441.07" y="586.38" width="31.43" height="17.29" fill="#55ffaa"/>
<rect x="472.20" y="586.38" width="31.43" height="17.29" fill="#2bffd4"/>
<rect x="503.33" y="586.38" width="31.43" height="17.29" fill="#55ffaa"/>
<rect x="534.46" y="586.38" width="31.43" height="17.29" fill="#2bffd4"/>
<rect x="565.59" y="586.38" width="31.43" height="17.29" fill="#00d4ff"/>
<rect x="596.72" y="586.38" width="31.43" height="17.29" fill="#15ffea"/>
<rect x="627.85" y="586.38" width="31.43" height="17.29" fill="#00d4ff"/>
<rect x="658.98" y="586.38" width="62.56" height="17.29" fill="#00bfff"/>
<rect x="721.24" y="586.38" width="31.43" height="17.29" fill="#006aff"/>
<rect x="752.37" y="586.38" width="31.43" height="17.29" fill="#15ffea"/>
<rect x="67.50" y="603.37" width="31.43" height="17.29" fill="#ff2a00"/>
<rect x="98.63" y="603.37" width="31.43" height="17.29" fill="#00eaff"/>
<rect x="129.76" y="603.37" width="62.56" height="17.29" fill="#15ffea"/>
<rect x="192.02" y="603.37" width="31.43" height="17.29" fill="#00ffff"/>
<rect x="223.15" y="603.37" width="31.43" height="17.29" fill="#00d4ff"/>
<rect x="254.28" y="603.37" width="31.43" height="17.29" fill="#00ffff"/>
<rect x="285.41" y="603.37" width="31.43" height="17.29" fill="#0080ff"/>
<rect x="316.54" y="603.37" width="31.43" height="17.29" fill="#00bfff"/>
<rect x="347.67" y="603.37" width="31.43" height="17.29" fill="#00d4ff"/>
<rect x="378.80" y="603.37" width="31.43" height="17.29" fill="#00aaff"/>
<rect x="409.93" y="603.37" width="93.69" height="17.29" fill="#00d4ff"/>
<rect x="503.33" y="603.37" width="31.43" height="17.29" fill="#00aaff"/>
<rect x="534.46" y="603.37" width="62.56" height="17.29" fill="#00eaff"/>
<rect x="596.72" y="603.37" width="31.43" height="17.29" fill="#00aaff"/>
<rect x="627.85" y="603.37" width="62.56" height="17.29" fill="#15ffea"/>
<rect x="690.11" y="603.37" width="31.43" height="17.29" fill="#00ffff"/>
<rect x="721.24" y="603.37" width="31.43" height="17.29" fill="#00d4ff"/>
<rect x="752.37" y="603.37" width="31.43" height="17.29" fill="#00bfff"/>
<rect x="67.50" y="620.36" width="31.43" height="17.29" fill="#ea0000"/>
<rect x="98.63" y="620.36" width="31.43" height="17.29" fill="#00ffff"/>
<rect x="129.76" y="620.36" width="62.56" height="17.29" fill="#40ffbf"/>
<rect x="192.02" y="620.36" width="31.43" height="17.29" fill="#00eaff"/>
<rect x="223.15" y="620.36" width="31.43" height="17.29" fill="#15ffea"/>
<rect x="254.28" y="620.36" width="62.56" height="17.29" fill="#80ff80"/>
<rect x="316.54" y="620.36" width="31.43" height="17.29" fill="#2bffd4"/>
<rect x="347.67" y="620.36" width="31.43" height="17.29" fill="#15ffea"/>
<rect x="378.80" y="620.36" width="31.43" height="17.29" fill="#2bffd4"/>
<rect x="409.93" y="620.36" width="31.43" height="17.29" fill="#6aff95"/>
<rect x="441.07" y="620.36" width="31.43" height="17.29" fill="#40ffbf"/>
<rect x="472.20" y="620.36" width="31.43" height="17.29" fill="#2bffd4"/>
<rect x="503.33" y="620.36" width="93.69" height="17.29" fill="#00d4ff"/>
<rect x="596.72" y="620.36" width="31.43" height="17.29" fill="#2bffd4"/>
<rect x="627.85" y="620.36" width="31.43" height="17.29" fill="#00ffff"/>
<rect x="658.98" y="620.36" width="31.43" height="17.29" fill="#00aaff"/>
<rect x="690.11" y="620.36" width="31.43" height="17.29" fill="#00ffff"/>
<rect x="721.24" y="620.36" width="31.43" height="17.29" fill="#00d4ff"/>
<rect x="752.37" y="620.36" width="31.43" height="17.29" fill="#15ffea"/>
<rect x="67.50" y="637.35" width="31.43" height="17.29" fill="#ff1500"/>
<rect x="98.63" y="637.35" width="31.43" height="17.29" fill="#15ffea"/>
<rect x="129.76" y="637.35" width="31.43" height="17.29" fill="#2bffd4"/>
<rect x="160.89" y="637.35" width="62.56" height="17.29" fill="#6aff95"/>
<rect x="223.15" y="637.35" width="31.43" height="17.29" fill="#00ffff"/>
<rect x="254.28" y="637.35" width="31.43" height="17.29" fill="#00eaff"/>
<rect x="285.41" y="637.35" width="31.43" height="17.29" fill="#00d4ff"/>
<rect x="316.54" y="637.35" width="31.43" height="17.29" fill="#00eaff"/>
<rect x="347.67" y="637.35" width="31.43" height="17.29" fill="#00d4ff"/>
<rect x="378.80" y="637.35" width="31.43" height="17.29" fill="#006aff"/>
<rect x="409.93" y="637.35" width="31.43" height="17.29" fill="#00aaff"/>
<rect x="441.07" y="637.35" width="31.43" height="17.29" fill="#00d4ff"/>
<rect x="472.20" y="637.35" width="31.43" height="17.29" fill="#00aaff"/>
<rect x="503.33" y="637.35" width="31.43" height="17.29" fill="#002aff"/>
<rect x="534.46" y="637.35" width="31.43" height="17.29" fill="#00ffff"/>
<rect x="565.59" y="637.35" width="31.43" height="17.29" fill="#0095ff"/>
<rect x="596.72" y="637.35" width="31.43" height="17.29" fill="#00bfff"/>
<rect x="627.85" y="637.35" width="31.43" height="17.29" fill="#00d4ff"/>
<rect x="658.98" y="637.35" width="31.43" height="17.29" fill="#00aaff"/>
<rect x="690.11" y="637.35" width="93.69" height="17.29" fill="#2bffd4"/>
<rect x="67.50" y="654.35" width="31.43" height="17.29" fill="#ff5500"/>
<rect x="98.63" y="654.35" width="31.43" height="17.29" fill="#00d4ff"/>
<rect x="129.76" y="654.35" width="31.43" height="17.29" fill="#00ffff"/>
<rect x="160.89" y="654.35" width="31.43" height="17.29" fill="#00eaff"/>
<rect x="192.02" y="654.35" width="31.43" height="17.29" fill="#00ffff"/>
<rect x="223.15" y="654.35" width="31.43" height="17.29" fill="#00eaff"/>
<rect x="254.28" y="654.35" width="31.43" height="17.29" fill="#2bffd4"/>
<rect x="285.41" y="654.35" width="31.43" height="17.29" fill="#00aaff"/>
<rect x="316.54" y="654.35" width="31.43" height="17.29" fill="#0080ff"/>
<rect x="347.67" y="654.35" width="31.43" height="17.29" fill="#00bfff"/>
<rect x="378.80" y="654.35" width="124.82" height="17.29" fill="#00d4ff"/>
<rect x="503.33" y="654.35" width="31.43" height="17.29" fill="#00eaff"/>
<rect x="534.46" y="654.35" width="31.43" height="17.29" fill="#00d4ff"/>
<rect x="565.59" y="654.35" width="31.43" height="17.29" fill="#00aaff"/>
<rect x="596.72" y="654.35" width="31.43" height="17.29" fill="#00d4ff"/>
<rect x="627.85" y="654.35" width="62.56" height="17.29" fill="#00bfff"/>
<rect x="690.11" y="654.35" width="62.56" height="17.29" fill="#0095ff"/>
<rect x="752.37" y="654.35" width="31.43" height="17.29" fill="#00d4ff"/>
<rect x="67.50" y="671.34" width="31.43" height="17.29" fill="#ff6a00"/>
<rect x="98.63" y="671.34" width="31.43" height="17.29" fill="#00d4ff"/>
<rect x="129.76" y="671.34" width="31.43" height="17.29" fill="#00bfff"/>
<rect x="160.89" y="671.34" width="62.56" height="17.29" fill="#00d4ff"/>
<rect x="223.15" y="671.34" width="31.43" height="17.29" fill="#00bfff"/>
<rect x="254.28" y="671.34" width="62.56" height="17.29" fill="#00d4ff"/>
<rect x="316.54" y="671.34" width="31.43" height="17.29" fill="#00eaff"/>
<rect x="347.67" y="671.34" width="31.43" height="17.29" fill="#00d4ff"/>
<rect x="378.80" y="671.34" width="62.56" height="17.29" fill="#00eaff"/>
<rect x="441.07" y="671.34" width="31.43" height="17.29" fill="#00bfff"/>
<rect x="472.20" y="671.34" width="31.43" height="17.29" fill="#00eaff"/>
<rect x="503.33" y="671.34" width="31.43" height="17.29" fill="#00aaff"/>
<rect x="534.46" y="671.34" width="31.43" height="17.29" fill="#00d4ff"/>
<rect x="565.59" y="671.34" width="31.43" height="17.29" fill="#00bfff"/>
<rect x="596.72" y="671.34" width="31.43" height="17.29" fill="#00aaff"/>
<rect x="627.85" y="671.34" width="31.43" height="17.29" fill="#0095ff"/>
<rect x="658.98" y="671.34" width="31.43" height="17.29" fill="#0080ff"/>
<rect x="690.11" y="671.34" width="62.56" height="17.29" fill="#00aaff"/>
<rect x="752.37" y="671.34" width="31.43" height="17.29" fill="#006aff"/>
<rect x="67.50" y="688.33" width="31.43" height="17.29" fill="#ff6a00"/>
<rect x="98.63" y="688.33" width="31.43" height="17.29" fill="#2bffd4"/>
<rect x="129.76" y="688.33" width="93.69" height="17.29" fill="#00d4ff"/>
<rect x="223.15" y="688.33" width="31.43" height="17.29" fill="#00bfff"/>
<rect x="254.28" y="688.33" width="31.43" height="17.29" fill="#0095ff"/>
<rect x="285.41" y="688.33" width="31.43" height="17.29" fill="#0080ff"/>
<rect x="316.54" y="688.33" width="31.43" height="17.29" fill="#00eaff"/>
<rect x="347.67" y="688.33" width="31.43" height="17.29" fill="#006aff"/>
<rect x="378.80" y="688.33" width="31.43" height="17.29" fill="#00eaff"/>
<rect x="409.93" y="688.33" width="31.43" height="17.29" fill="#00d4ff"/>
<rect x="441.07" y="688.33" width="31.43" height="17.29" fill="#0080ff"/>
<rect x="472.20" y="688.33" width="31.43" height="17.29" fill="#0055ff"/>
<rect x="503.33" y="688.33" width="31.43" height="17.29" fill="#0095ff"/>
<rect x="534.46" y="688.33" width="31.43" height="17.29" fill="#0055ff"/>
<rect x="565.59" y="688.33" width="31.43" height="17.29" fill="#006aff"/>
<rect x="596.72" y="688.33" width="31.43" height="17.29" fill="#00bfff"/>
<rect x="627.85" y="688.33" width="31.43" height="17.29" fill="#006aff"/>
<rect x="658.98" y="688.33" width="31.43" height="17.29" fill="#0095ff"/>
<rect x="690.11" y="688.33" width="31.43" height="17.29" fill="#0055ff"/>
<rect x="721.24" y="688.33" width="31.43" height="17.29" fill="#00bfff"/>
<rect x="752.37" y="688.33" width="31.43" height="17.29" fill="#006aff"/>
<rect x="67.50" y="705.32" width="31.43" height="17.29" fill="#ff9500"/>
<rect x="98.63" y="705.32" width="93.69" height="17.29" fill="#00d4ff"/>
<rect x="192.02" y="705.32" width="31.43" height="17.29" fill="#0080ff"/>
<rect x="223.15" y="705.32" width="31.43" height="17.29" fill="#00bfff"/>
<rect x="254.28" y="705.32" width="62.56" height="17.29" fill="#0080ff"/>
<rect x="316.54" y="705.32" width="31.43" height="17.29" fill="#00eaff"/>
<rect x="347.67" y="705.32" width="31.43" height="17.29" fill="#00bfff"/>
<rect x="378.80" y="705.32" width="31.43" height="17.29" fill="#0095ff"/>
<rect x="409.93" y="705.32" width="31.43" height="17.29" fill="#00aaff"/>
<rect x="441.07" y="705.32" width="31.43" height="17.29" fill="#006aff"/>
<rect x="472.20" y="705.32" width="31.43" height="17.29" fill="#00aaff"/>
<rect x="503.33" y="705.32" width="31.43" height="17.29" fill="#00bfff"/>
<rect x="534.46" y="705.32" width="31.43" height="17.29" fill="#0040ff"/>
<rect x="565.59" y="705.32" width="31.43" height="17.29" fill="#006aff"/>
<rect x="596.72" y="705.32" width="31.43" height="17.29" fill="#0055ff"/>
<rect x="627.85" y="705.32" width="31.43" height="17.29" fill="#006aff"/>
<rect x="658.98" y="705.32" width="31.43" height="17.29" fill="#0080ff"/>
<rect x="690.11" y="705.32" width="31.43" height="17.29" fill="#0040ff"/>
<rect x="721.24" y="705.32" width="31.43" height="17.29" fill="#0055ff"/>
<rect x="752.37" y="705.32" width="31.43" height="17.29" fill="#0015ff"/>
<rect x="67.50" y="722.31" width="31.43" height="17.29" fill="#ffaa00"/>
<rect x="98.63" y="722.31" width="62.56" height="17.29" fill="#00aaff"/>
<rect x="160.89" y="722.31" width="31.43" height="17.29" fill="#0095ff"/>
<rect x="192.02" y="722.31" width="31.43" height="17.29" fill="#0080ff"/>
<rect x="223.15" y="722.31" width="62.56" height="17.29" fill="#0095ff"/>
<rect x="285.41" y="722.31" width="31.43" height="17.29" fill="#00aaff"/>
<rect x="316.54" y="722.31" width="31.43" height="17.29" fill="#00d4ff"/>
<rect x="347.67" y="722.31" width="62.56" height="17.29" fill="#00aaff"/>
<rect x="409.93" y="722.31" width="31.43" height="17.29" fill="#0055ff"/>
<rect x="441.07" y="722.31" width="31.43" height="17.29" fill="#0040ff"/>
<rect x="472.20" y="722.31" width="62.56" height="17.29" fill="#0080ff"/>
<rect x="534.46" y="722.31" width="31.43" height="17.29" fill="#0095ff"/>
<rect x="565.59" y="722.31" width="31.43" height="17.29" fill="#0000d4"/>
<rect x="596.72" y="722.31" width="31.43" height="17.29" fill="#002aff"/>
<rect x="627.85" y="722.31" width="31.43" height="17.29" fill="#0080ff"/>
<rect x="658.98" y="722.31" width="31.43" height="17.29" fill="#0055ff"/>
<rect x="690.11" y="722.31" width="31.43" height="17.29" fill="#0040ff"/>
<rect x="721.24" y="722.31" width="31.43" height="17.29" fill="#006aff"/>
<rect x="752.37" y="722.31" width="31.43" height="17.29" fill="#0015ff"/>
<rect x="67.50" y="739.30" width="31.43" height="17.29" fill="#ff9500"/>
<rect x="98.63" y="739.30" width="31.43" height="17.29" fill="#00d4ff"/>
<rect x="129.76" y="739.30" width="31.43" height="17.29" fill="#00bfff"/>
<rect x="160.89" y="739.30" width="31.43" height="17.29" fill="#0080ff"/>
<rect x="192.02" y="739.30" width="31.43" height="17.29" fill="#0095ff"/>
<rect x="223.15" y="739.30" width="31.43" height="17.29" fill="#00ffff"/>
<rect x="254.28" y="739.30" width="31.43" height="17.29" fill="#00bfff"/>
<rect x="285.41" y="739.30" width="31.43" height="17.29" fill="#00aaff"/>
<rect x="316.54" y="739.30" width="31.43" height="17.29" fill="#00bfff"/>
<rect x="347.67" y="739.30" width="31.43" height="17.29" fill="#00d4ff"/>
<rect x="378.80" y="739.30" width="31.43" height="17.29" fill="#0095ff"/>
<rect x="409.93" y="739.30" width="31.43" height="17.29" fill="#00aaff"/>
<rect x="441.07" y="739.30" width="31.43" height="17.29" fill="#006aff"/>
<rect x="472.20" y="739.30" width="31.43" height="17.29" fill="#0080ff"/>
<rect x="503.33" y="739.30" width="31.43" height="17.29" fill="#0095ff"/>
<rect x="534.46" y="739.30" width="31.43" height="17.29" fill="#00aaff"/>
<rect x="565.59" y="739.30" width="31.43" height="17.29" fill="#0080ff"/>
<rect x="596.72" y="739.30" width="31.43" height="17.29" fill="#0055ff"/>
<rect x="627.85" y="739.30" width="31.43" height="17.29" fill="#0000d4"/>
<rect x="658.98" y="739.30" width="31.43" height="17.29" fill="#006aff"/>
<rect x="690.11" y="739.30" width="31.43" height="17.29" fill="#0015ff"/>
<rect x="721.24" y="739.30" width="31.43" height="17.29" fill="#0040ff"/>
<rect x="752.37" y="739.30" width="31.43" height="17.29" fill="#0015ff"/>
<rect x="67.50" y="756.29" width="31.43" height="17.29" fill="#ffaa00"/>
<rect x="98.63" y="756.29" width="31.43" height="17.29" fill="#00d4ff"/>
<rect x="129.76" y="756.29" width="31.43" height="17.29" fill="#00bfff"/>
<rect x="160.89" y="756.29" width="62.56" height="17.29" fill="#0095ff"/>
<rect x="223.15" y="756.29" width="31.43" height="17.29" fill="#00aaff"/>
<rect x="254.28" y="756.29" width="31.43" height="17.29" fill="#0095ff"/>
<rect x="285.41" y="756.29" width="31.43" height="17.29" fill="#0040ff"/>
<rect x="316.54" y="756.29" width="31.43" height="17.29" fill="#00aaff"/>
<rect x="347.67" y="756.29" width="31.43" height="17.29" fill="#00bfff"/>
<rect x="378.80" y="756.29" width="31.43" height="17.29" fill="#0080ff"/>
<rect x="409.93" y="756.29" width="31.43" height="17.29" fill="#0055ff"/>
<rect x="441.07" y="756.29" width="31.43" height="17.29" fill="#0080ff"/>
<rect x="472.20" y="756.29" width="93.69" height="17.29" fill="#006aff"/>
<rect x="565.59" y="756.29" width="31.43" height="17.29" fill="#0080ff"/>
<rect x="596.72" y="756.29" width="31.43" height="17.29" fill="#0055ff"/>
<rect x="627.85" y="756.29" width="31.43" height="17.29" fill="#0040ff"/>
<rect x="658.98" y="756.29" width="31.43" height="17.29" fill="#006aff"/>
<rect x="690.11" y="756.29" width="31.43" height="17.29" fill="#0015ff"/>
<rect x="721.24" y="756.29" width="31.43" height="17.29" fill="#0000ff"/>
<rect x="752.37" y="756.29" width="31.43" height="17.29" fill="#0015ff"/>
<rect x="67.50" y="773.28" width="31.43" height="17.29" fill="#ffd500"/>
<rect x="98.63" y="773.28" width="31.43" height="17.29" fill="#00d4ff"/>
<rect x="129.76" y="773.28" width="31.43" height="17.29" fill="#00aaff"/>
<rect x="160.89" y="773.28" width="31.43" height="17.29" fill="#006aff"/>
<rect x="192.02" y="773.28" width="31.43" height="17.29" fill="#0040ff"/>
<rect x="223.15" y="773.28" width="31.43" height="17.29" fill="#002aff"/>
<rect x="254.28" y="773.28" width="31.43" height="17.29" fill="#006aff"/>
<rect x="285.41" y="773.28" width="31.43" height="17.29" fill="#00aaff"/>
<rect x="316.54" y="773.28" width="31.43" height="17.29" fill="#0080ff"/>
<rect x="347.67" y="773.28" width="31.43" height="17.29" fill="#002aff"/>
<rect x="378.80" y="773.28" width="31.43" height="17.29" fill="#0015ff"/>
<rect x="409.93" y="773.28" width="31.43" height="17.29" fill="#0080ff"/>
<rect x="441.07" y="773.28" width="31.43" height="17.29" fill="#002aff"/>
<rect x="472.20" y="773.28" width="31.43" height="17.29" fill="#0000aa"/>
<rect x="503.33" y="773.28" width="93.69" height="17.29" fill="#002aff"/>
<rect x="596.72" y="773.28" width="31.43" height="17.29" fill="#0015ff"/>
<rect x="627.85" y="773.28" width="31.43" height="17.29" fill="#0000ff"/>
<rect x="658.98" y="773.28" width="31.43" height="17.29" fill="#0040ff"/>
<rect x="690.11" y="773.28" width="62.56" height="17.29" fill="#0000d4"/>
<rect x="752.37" y="773.28" width="31.43" height="17.29" fill="#0000ff"/>
<rect x="67.50" y="790.27" width="31.43" height="17.29" fill="#ffbf00"/>
<rect x="98.63" y="790.27" width="31.43" height="17.29" fill="#0080ff"/>
<rect x="129.76" y="790.27" width="31.43" height="17.29" fill="#0055ff"/>
<rect x="160.89" y="790.27" width="31.43" height="17.29" fill="#0080ff"/>
<rect x="192.02" y="790.27" width="62.56" height="17.29" fill="#006aff"/>
<rect x="254.28" y="790.27" width="31.43" height="17.29" fill="#0055ff"/>
<rect x="285.41" y="790.27" width="93.69" height="17.29" fill="#006aff"/>
<rect x="378.80" y="790.27" width="31.43" height="17.29" fill="#0080ff"/>
<rect x="409.93" y="790.27" width="31.43" height="17.29" fill="#0040ff"/>
<rect x="441.07" y="790.27" width="31.43" height="17.29" fill="#0055ff"/>
<rect x="472.20" y="790.27" width="31.43" height="17.29" fill="#0000ff"/>
<rect x="503.33" y="790.27" width="31.43" height="17.29" fill="#002aff"/>
<rect x="534.46" y="790.27" width="31.43" height="17.29" fill="#0055ff"/>
<rect x="565.59" y="790.27" width="31.43" height="17.29" fill="#0000ff"/>
<rect x="596.72" y="790.27" width="31.43" height="17.29" fill="#0000d4"/>
<rect x="627.85" y="790.27" width="93.69" height="17.29" fill="#0000ff"/>
<rect x="721.24" y="790.27" width="62.56" height="17.29" fill="#0000ea"/>
<rect x="67.50" y="807.26" width="31.43" height="17.29" fill="#ffd500"/>
<rect x="98.63" y="807.26" width="31.43" height="17.29" fill="#0095ff"/>
<rect x="129.76" y="807.26" width="31.43" height="17.29" fill="#00bfff"/>
<rect x="160.89" y="807.26" width="31.43" height="17.29" fill="#0040ff"/>
<rect x="192.02" y="807.26" width="31.43" height="17.29" fill="#0095ff"/>
<rect x="223.15" y="807.26" width="31.43" height="17.29" fill="#002aff"/>
<rect x="254.28" y="807.26" width="62.56" height="17.29" fill="#0055ff"/>
<rect x="316.54" y="807.26" width="31.43" height="17.29" fill="#0095ff"/>
<rect x="347.67" y="807.26" width="31.43" height="17.29" fill="#006aff"/>
<rect x="378.80" y="807.26" width="62.56" height="17.29" fill="#0040ff"/>
<rect x="441.07" y="807.26" width="31.43" height="17.29" fill="#002aff"/>
<rect x="472.20" y="807.26" width="31.43" height="17.29" fill="#0080ff"/>
<rect x="503.33" y="807.26" width="31.43" height="17.29" fill="#0015ff"/>
<rect x="534.46" y="807.26" width="31.43" height="17.29" fill="#0000ff"/>
<rect x="565.59" y="807.26" width="31.43" height="17.29" fill="#00008f"/>
<rect x="596.72" y="807.26" width="31.43" height="17.29" fill="#0000bf"/>
<rect x="627.85" y="807.26" width="31.43" height="17.29" fill="#0000d4"/>
<rect x="658.98" y="807.26" width="31.43" height="17.29" fill="#002aff"/>
<rect x="690.11" y="807.26" width="31.43" height="17.29" fill="#0000ff"/>
<rect x="721.24" y="807.26" width="31.43" height="17.29" fill="#0040ff"/>
<rect x="752.37" y="807.26" width="31.43" height="17.29" fill="#002aff"/>
<rect x="67.50" y="824.25" width="31.43" height="17.29" fill="#ffd500"/>
<rect x="98.63" y="824.25" width="62.56" height="17.29" fill="#00d4ff"/>
<rect x="160.89" y="824.25" width="31.43" height="17.29" fill="#00aaff"/>
<rect x="192.02" y="824.25" width="31.43" height="17.29" fill="#0095ff"/>
<rect x="223.15" y="824.25" width="31.43" height="17.29" fill="#0080ff"/>
<rect x="254.28" y="824.25" width="31.43" height="17.29" fill="#006aff"/>
<rect x="285.41" y="824.25" width="31.43" height="17.29" fill="#0095ff"/>
<rect x="316.54" y="824.25" width="62.56" height="17.29" fill="#00aaff"/>
<rect x="378.80" y="824.25" width="62.56" height="17.29" fill="#0055ff"/>
<rect x="441.07" y="824.25" width="31.43" height="17.29" fill="#0000ff"/>
<rect x="472.20" y="824.25" width="31.43" height="17.29" fill="#002aff"/>
<rect x="503.33" y="824.25" width="31.43" height="17.29" fill="#0000ff"/>
<rect x="534.46" y="824.25" width="31.43" height="17.29" fill="#0055ff"/>
<rect x="565.59" y="824.25" width="31.43" height="17.29" fill="#002aff"/>
<rect x="596.72" y="824.25" width="62.56" height="17.29" fill="#006aff"/>
<rect x="658.98" y="824.25" width="31.43" height="17.29" fill="#002aff"/>
<rect x="690.11" y="824.25" width="31.43" height="17.29" fill="#0000d4"/>
<rect x="721.24" y="824.25" width="31.43" height="17.29" fill="#0000bf"/>
<rect x="752.37" y="824.25" width="31.43" height="17.29" fill="#0000ea"/>
<rect x="67.50" y="841.25" width="31.43" height="17.29" fill="#ffff00"/>
<rect x="98.63" y="841.25" width="31.43" height="17.29" fill="#0055ff"/>
<rect x="129.76" y="841.25" width="31.43" height="17.29" fill="#0095ff"/>
<rect x="160.89" y="841.25" width="31.43" height="17.29" fill="#00aaff"/>
<rect x="192.02" y="841.25" width="31.43" height="17.29" fill="#0080ff"/>
<rect x="223.15" y="841.25" width="31.43" height="17.29" fill="#0040ff"/>
<rect x="254.28" y="841.25" width="62.56" height="17.29" fill="#006aff"/>
<rect x="316.54" y="841.25" width="31.43" height="17.29" fill="#00aaff"/>
<rect x="347.67" y="841.25" width="31.43" height="17.29" fill="#0080ff"/>
<rect x="378.80" y="841.25" width="31.43" height="17.29" fill="#0055ff"/>
<rect x="409.93" y="841.25" width="93.69" height="17.29" fill="#0040ff"/>
<rect x="503.33" y="841.25" width="31.43" height="17.29" fill="#0055ff"/>
<rect x="534.46" y="841.25" width="31.43" height="17.29" fill="#0015ff"/>
<rect x="565.59" y="841.25" width="62.56" height="17.29" fill="#002aff"/>
<rect x="627.85" y="841.25" width="31.43" height="17.29" fill="#0015ff"/>
<rect x="658.98" y="841.25" width="31.43" height="17.29" fill="#0000ea"/>
<rect x="690.11" y="841.25" width="31.43" height="17.29" fill="#0000ff"/>
<rect x="721.24" y="841.25" width="31.43" height="17.29" fill="#0000bf"/>
<rect x="752.37" y="841.25" width="31.43" height="17.29" fill="#0000aa"/>
<rect x="67.50" y="858.24" width="31.43" height="17.29" fill="#eaff15"/>
<rect x="98.63" y="858.24" width="31.43" height="17.29" fill="#002aff"/>
<rect x="129.76" y="858.24" width="62.56" height="17.29" fill="#0080ff"/>
<rect x="192.02" y="858.24" width="62.56" height="17.29" fill="#006aff"/>
<rect x="254.28" y="858.24" width="31.43" height="17.29" fill="#0095ff"/>
<rect x="285.41" y="858.24" width="31.43" height="17.29" fill="#0055ff"/>
<rect x="316.54" y="858.24" width="62.56" height="17.29" fill="#006aff"/>
<rect x="378.80" y="858.24" width="31.43" height="17.29" fill="#0040ff"/>
<rect x="409.93" y="858.24" width="31.43" height="17.29" fill="#0000ff"/>
<rect x="441.07" y="858.24" width="31.43" height="17.29" fill="#0055ff"/>
<rect x="472.20" y="858.24" width="31.43" height="17.29" fill="#0040ff"/>
<rect x="503.33" y="858.24" width="31.43" height="17.29" fill="#0000ea"/>
<rect x="534.46" y="858.24" width="31.43" height="17.29" fill="#0000d4"/>
<rect x="565.59" y="858.24" width="31.43" height="17.29" fill="#0015ff"/>
<rect x="596.72" y="858.24" width="31.43" height="17.29" fill="#0000d4"/>
<rect x="627.85" y="858.24" width="31.43" height="17.29" fill="#0015ff"/>
<rect x="658.98" y="858.24" width="31.43" height="17.29" fill="#0000d4"/>
<rect x="690.11" y="858.24" width="31.43" height="17.29" fill="#0000ea"/>
<rect x="721.24" y="858.24" width="31.43" height="17.29" fill="#0000d4"/>
<rect x="752.37" y="858.24" width="31.43" height="17.29" fill="#00008f"/>
<rect x="67.50" y="875.23" width="31.43" height="17.29" fill="#d5ff2a"/>
<rect x="98.63" y="875.23" width="31.43" height="17.29" fill="#0055ff"/>
<rect x="129.76" y="875.23" width="31.43" height="17.29" fill="#006aff"/>
<rect x="160.89" y="875.23" width="31.43" height="17.29" fill="#0015ff"/>
<rect x="192.02" y="875.23" width="31.43" height="17.29" fill="#0080ff"/>
<rect x="223.15" y="875.23" width="31.43" height="17.29" fill="#0000ff"/>
<rect x="254.28" y="875.23" width="31.43" height="17.29" fill="#0040ff"/>
<rect x="285.41" y="875.23" width="31.43" height="17.29" fill="#0055ff"/>
<rect x="316.54" y="875.23" width="31.43" height="17.29" fill="#0095ff"/>
<rect x="347.67" y="875.23" width="31.43" height="17.29" fill="#002aff"/>
<rect x="378.80" y="875.23" width="31.43" height="17.29" fill="#0040ff"/>
<rect x="409.93" y="875.23" width="31.43" height="17.29" fill="#0015ff"/>
<rect x="441.07" y="875.23" width="31.43" height="17.29" fill="#0000ff"/>
<rect x="472.20" y="875.23" width="31.43" height="17.29" fill="#0000d4"/>
<rect x="503.33" y="875.23" width="31.43" height="17.29" fill="#0000ff"/>
<rect x="534.46" y="875.23" width="31.43" height="17.29" fill="#0000aa"/>
<rect x="565.59" y="875.23" width="31.43" height="17.29" fill="#0015ff"/>
<rect x="596.72" y="875.23" width="62.56" height="17.29" fill="#0000d4"/>
<rect x="658.98" y="875.23" width="31.43" height="17.29" fill="#0000ea"/>
<rect x="690.11" y="875.23" width="31.43" height="17.29" fill="#0000d4"/>
<rect x="721.24" y="875.23" width="31.43" height="17.29" fill="#0000ff"/>
<rect x="752.37" y="875.23" width="31.43" height="17.29" fill="#0000d4"/>
<rect x="67.50" y="892.22" width="31.43" height="17.29" fill="#d5ff2a"/>
<rect x="98.63" y="892.22" width="31.43" height="17.29" fill="#0080ff"/>
<rect x="129.76" y="892.22" width="31.43" height="17.29" fill="#0055ff"/>
<rect x="160.89" y="892.22" width="31.43" height="17.29" fill="#006aff"/>
<rect x="192.02" y="892.22" width="31.43" height="17.29" fill="#002aff"/>
<rect x="223.15" y="892.22" width="31.43" height="17.29" fill="#0000d4"/>
<rect x="254.28" y="892.22" width="31.43" height="17.29" fill="#0015ff"/>
<rect x="285.41" y="892.22" width="31.43" height="17.29" fill="#002aff"/>
<rect x="316.54" y="892.22" width="31.43" height="17.29" fill="#0055ff"/>
<rect x="347.67" y="892.22" width="31.43" height="17.29" fill="#002aff"/>
<rect x="378.80" y="892.22" width="31.43" height="17.29" fill="#0055ff"/>
<rect x="409.93" y="892.22" width="31.43" height="17.29" fill="#0015ff"/>
<rect x="441.07" y="892.22" width="31.43" height="17.29" fill="#0055ff"/>
<rect x="472.20" y="892.22" width="31.43" height="17.29" fill="#0000d4"/>
<rect x="503.33" y="892.22" width="31.43" height="17.29" fill="#0040ff"/>
<rect x="534.46" y="892.22" width="31.43" height="17.29" fill="#0015ff"/>
<rect x="565.59" y="892.22" width="31.43" height="17.29" fill="#0000d4"/>
<rect x="596.72" y="892.22" width="31.43" height="17.29" fill="#0015ff"/>
<rect x="627.85" y="892.22" width="31.43" height="17.29" fill="#002aff"/>
<rect x="658.98" y="892.22" width="31.43" height="17.29" fill="#0000d4"/>
<rect x="690.11" y="892.22" width="31.43" height="17.29" fill="#0000bf"/>
<rect x="721.24" y="892.22" width="31.43" height="17.29" fill="#0000d4"/>
<rect x="752.37" y="892.22" width="31.43" height="17.29" fill="#0000aa"/>
<rect x="67.50" y="909.21" width="31.43" height="17.29" fill="#d5ff2a"/>
<rect x="98.63" y="909.21" width="31.43" height="17.29" fill="#006aff"/>
<rect x="129.76" y="909.21" width="62.56" height="17.29" fill="#0040ff"/>
<rect x="192.02" y="909.21" width="124.82" height="17.29" fill="#002aff"/>
<rect x="316.54" y="909.21" width="31.43" height="17.29" fill="#0095ff"/>
<rect x="347.67" y="909.21" width="31.43" height="17.29" fill="#002aff"/>
<rect x="378.80" y="909.21" width="31.43" height="17.29" fill="#0040ff"/>
<rect x="409.93" y="909.21" width="62.56" height="17.29" fill="#0000ff"/>
<rect x="472.20" y="909.21" width="31.43" height="17.29" fill="#002aff"/>
<rect x="503.33" y="909.21" width="31.43" height="17.29" fill="#0000ff"/>
<rect x="534.46" y="909.21" width="31.43" height="17.29" fill="#0000bf"/>
<rect x="565.59" y="909.21" width="31.43" height="17.29" fill="#0000ff"/>
<rect x="596.72" y="909.21" width="31.43" height="17.29" fill="#0000bf"/>
<rect x="627.85" y="909.21" width="31.43" height="17.29" fill="#0000ea"/>
<rect x="658.98" y="909.21" width="124.82" height="17.29" fill="#0000aa"/>
</g>
<rect class="k" x="67.50" y="552.40" width="716.00" height="373.80"/>
<path class="k" d="M83.07 926.20 v-7.20 M83.07 552.40 v7.20 M180.90 926.20 v-7.20 M180.90 552.40 v7.20 M278.74 926.20 v-7.20 M278.74 552.40 v7.20 M376.58 926.20 v-7.20 M376.58 552.40 v7.20 M474.42 926.20 v-7.20 M474.42 552.40 v7.20 M572.26 926.20 v-7.20 M572.26 552.40 v7.20 M670.10 926.20 v-7.20 M670.10 552.40 v7.20 M767.93 926.20 v-7.20 M767.93 552.40 v7.20 M67.50 560.90 h7.20 M783.50 560.90 h-7.20 M67.50 679.83 h7.20 M783.50 679.83 h-7.20 M67.50 798.77 h7.20 M783.50 798.77 h-7.20 M67.50 917.70 h7.20 M783.50 917.70 h-7.20"/>
<text class="x" transform="translate(83.07 945.20) scale(0.905 1)">0</text>
<text class="x" transform="translate(180.90 945.20) scale(0.905 1)">10</text>
<text class="x" transform="translate(278.74 945.20) scale(0.905 1)">20</text>
<text class="x" transform="translate(376.58 945.20) scale(0.905 1)">30</text>
<text class="x" transform="translate(474.42 945.20) scale(0.905 1)">40</text>
<text class="x" transform="translate(572.26 945.20) scale(0.905 1)">50</text>
<text class="x" transform="translate(670.10 945.20) scale(0.905 1)">60</text>
<text class="x" transform="translate(767.93 945.20) scale(0.905 1)">70</text>
<text class="y" transform="translate(62.00 566.30) scale(0.905 1)">0</text>
<text class="y" transform="translate(62.00 685.23) scale(0.905 1)">500</text>
<text class="y" transform="translate(62.00 804.17) scale(0.905 1)">1000</text>
<text class="y" transform="translate(62.00 923.10) scale(0.905 1)">1500</text>
<text class="t" x="425.50" y="544.00">c - Averaged 2D-FT of high-amplitude &quot;scratches&quot;</text>
<text class="l" x="425.50" y="975.30">Spectral repetition (Hz)</text>
<text class="l" transform="translate(23.60 739.30) rotate(-90)">Frequency (Hz)</text>
</g>
<g id="panel-d">
<g shape-rendering="crispEdges">
<rect x="929.80" y="552.40" width="31.43" height="17.29" fill="#ff5500"/>
<rect x="960.93" y="552.40" width="62.56" height="17.29" fill="#2bffd4"/>
<rect x="1023.19" y="552.40" width="31.43" height="17.29" fill="#40ffbf"/>
<rect x="1054.32" y="552.40" width="31.43" height="17.29" fill="#2bffd4"/>
<rect x="1085.45" y="552.40" width="62.56" height="17.29" fill="#00d4ff"/>
<rect x="1147.71" y="552.40" width="31.43" height="17.29" fill="#00eaff"/>
<rect x="1178.84" y="552.40" width="31.43" height="17.29" fill="#00d4ff"/>
<rect x="1209.97" y="552.40" width="31.43" height="17.29" fill="#00bfff"/>
<rect x="1241.10" y="552.40" width="31.43" height="17.29" fill="#0095ff"/>
<rect x="1272.23" y="552.40" width="62.56" height="17.29" fill="#00d4ff"/>
<rect x="1334.50" y="552.40" width="31.43" height="17.29" fill="#00aaff"/>
<rect x="1365.63" y="552.40" width="31.43" height="17.29" fill="#00bfff"/>
<rect x="1396.76" y="552.40" width="31.43" height="17.29" fill="#00eaff"/>
<rect x="1427.89" y="552.40" width="31.43" height="17.29" fill="#00d4ff"/>
<rect x="1459.02" y="552.40" width="31.43" height="17.29" fill="#15ffea"/>
<rect x="1490.15" y="552.40" width="31.43" height="17.29" fill="#00d4ff"/>
<rect x="1521.28" y="552.40" width="31.43" height="17.29" fill="#2bffd4"/>
<rect x="1552.41" y="552.40" width="31.43" height="17.29" fill="#40ffbf"/>
<rect x="1583.54" y="552.40" width="31.43" height="17.29" fill="#2bffd4"/>
<rect x="1614.67" y="552.40" width="31.43" height="17.29" fill="#00d4ff"/>
<rect x="929.80" y="569.39" width="31.43" height="17.29" fill="#ff0000"/>
<rect x="960.93" y="569.39" width="31.43" height="17.29" fill="#6aff95"/>
<rect x="992.06" y="569.39" width="31.43" height="17.29" fill="#2bffd4"/>
<rect x="1023.19" y="569.39" width="31.43" height="17.29" fill="#40ffbf"/>
<rect x="1054.32" y="569.39" width="31.43" height="17.29" fill="#6aff95"/>
<rect x="1085.45" y="569.39" width="31.43" height="17.29" fill="#55ffaa"/>
<rect x="1116.58" y="569.39" width="31.43" height="17.29" fill="#15ffea"/>
<rect x="1147.71" y="569.39" width="31.43" height="17.29" fill="#6aff95"/>
<rect x="1178.84" y="569.39" width="31.43" height="17.29" fill="#15ffea"/>
<rect x="1209.97" y="569.39" width="31.43" height="17.29" fill="#2bffd4"/>
<rect x="1241.10" y="569.39" width="31.43" height="17.29" fill="#00d4ff"/>
<rect x="1272.23" y="569.39" width="31.43" height="17.29" fill="#15ffea"/>
<rect x="1303.37" y="569.39" width="31.43" height="17.29" fill="#00ffff"/>
<rect x="1334.50" y="569.39" width="31.43" height="17.29" fill="#2bffd4"/>
<rect x="1365.63" y="569.39" width="31.43" height="17.29" fill="#00d4ff"/>
<rect x="1396.76" y="569.39" width="31.43" height="17.29" fill="#2bffd4"/>
<rect x="1427.89" y="569.39" width="31.43" height="17.29" fill="#0095ff"/>
<rect x="1459.02" y="569.39" width="31.43" height="17.29" fill="#15ffea"/>
<rect x="1490.15" y="569.39" width="31.43" height="17.29" fill="#00ffff"/>
<rect x="1521.28" y="569.39" width="31.43" height="17.29" fill="#00eaff"/>
<rect x="1552.41" y="569.39" width="31.43" height="17.29" fill="#2bffd4"/>
<rect x="1583.54" y="569.39" width="31.43" height="17.29" fill="#15ffea"/>
<rect x="1614.67" y="569.39" width="31.43" height="17.29" fill="#00eaff"/>
<rect x="929.80" y="586.38" width="31.43" height="17.29" fill="#800000"/>
<rect x="960.93" y="586.38" width="31.43" height="17.29" fill="#ffd500"/>
<rect x="992.06" y="586.38" width="31.43" height="17.29" fill="#ffff00"/>
<rect x="1023.19" y="586.38" width="31.43" height="17.29" fill="#d5ff2a"/>
<rect x="1054.32" y="586.38" width="31.43" height="17.29" fill="#ffd500"/>
<rect x="1085.45" y="586.38" width="31.43" height="17.29" fill="#eaff15"/>
<rect x="1116.58" y="586.38" width="31.43" height="17.29" fill="#d5ff2a"/>
<rect x="1147.71" y="586.38" width="62.56" height="17.29" fill="#aaff55"/>
<rect x="1209.97" y="586.38" width="62.56" height="17.29" fill="#95ff6a"/>
<rect x="1272.23" y="586.38" width="31.43" height="17.29" fill="#aaff55"/>
<rect x="1303.37" y="586.38" width="31.43" height="17.29" fill="#55ffaa"/>
<rect x="1334.50" y="586.38" width="31.43" height="17.29" fill="#40ffbf"/>
<rect x="1365.63" y="586.38" width="31.43" height="17.29" fill="#00bfff"/>
<rect x="1396.76" y="586.38" width="31.43" height="17.29" fill="#00d4ff"/>
<rect x="1427.89" y="586.38" width="31.43" height="17.29" fill="#00aaff"/>
<rect x="1459.02" y="586.38" width="31.43" height="17.29" fill="#2bffd4"/>
<rect x="1490.15" y="586.38" width="31.43" height="17.29" fill="#15ffea"/>
<rect x="1521.28" y="586.38" width="31.43" height="17.29" fill="#0095ff"/>
<rect x="1552.41" y="586.38" width="31.43" height="17.29" fill="#002aff"/>
<rect x="1583.54" y="586.38" width="31.43" height="17.29" fill="#00aaff"/>
<rect x="1614.67" y="586.38" width="31.43" height="17.29" fill="#00bfff"/>
<rect x="929.80" y="603.37" width="31.43" height="17.29" fill="#ff2a00"/>
<rect x="960.93" y="603.37" width="31.43" height="17.29" fill="#00ffff"/>
<rect x="992.06" y="603.37" width="62.56" height="17.29" fill="#00bfff"/>
<rect x="1054.32" y="603.37" width="31.43" height="17.29" fill="#0080ff"/>
<rect x="1085.45" y="603.37" width="31.43" height="17.29" fill="#15ffea"/>
<rect x="1116.58" y="603.37" width="62.56" height="17.29" fill="#00eaff"/>
<rect x="1178.84" y="603.37" width="31.43" height="17.29" fill="#00d4ff"/>
<rect x="1209.97" y="603.37" width="31.43" height="17.29" fill="#00eaff"/>
<rect x="1241.10" y="603.37" width="31.43" height="17.29" fill="#00ffff"/>
<rect x="1272.23" y="603.37" width="31.43" height="17.29" fill="#00d4ff"/>
<rect x="1303.37" y="603.37" width="31.43" height="17.29" fill="#00bfff"/>
<rect x="1334.50" y="603.37" width="93.69" height="17.29" fill="#00d4ff"/>
<rect x="1427.89" y="603.37" width="31.43" height="17.29" fill="#00eaff"/>
<rect x="1459.02" y="603.37" width="62.56" height="17.29" fill="#00d4ff"/>
<rect x="1521.28" y="603.37" width="31.43" height="17.29" fill="#00eaff"/>
<rect x="1552.41" y="603.37" width="31.43" height="17.29" fill="#00aaff"/>
<rect x="1583.54" y="603.37" width="31.43" height="17.29" fill="#00bfff"/>
<rect x="1614.67" y="603.37" width="31.43" height="17.29" fill="#00eaff"/>
<rect x="929.80" y="620.36" width="31.43" height="17.29" fill="#950000"/>
<rect x="960.93" y="620.36" width="31.43" height="17.29" fill="#d5ff2a"/>
<rect x="992.06" y="620.36" width="31.43" height="17.29" fill="#bfff40"/>
<rect x="1023.19" y="620.36" width="31.43" height="17.29" fill="#80ff80"/>
<rect x="1054.32" y="620.36" width="93.69" height="17.29" fill="#aaff55"/>
<rect x="1147.71" y="620.36" width="31.43" height="17.29" fill="#55ffaa"/>
<rect x="1178.84" y="620.36" width="31.43" height="17.29" fill="#80ff80"/>
<rect x="1209.97" y="620.36" width="31.43" height="17.29" fill="#6aff95"/>
<rect x="1241.10" y="620.36" width="31.43" height="17.29" fill="#80ff80"/>
<rect x="1272.23" y="620.36" width="31.43" height="17.29" fill="#40ffbf"/>
<rect x="1303.37" y="620.36" width="31.43" height="17.29" fill="#15ffea"/>
<rect x="1334.50" y="620.36" width="31.43" height="17.29" fill="#40ffbf"/>
<rect x="1365.63" y="620.36" width="31.43" height="17.29" fill="#00ffff"/>
<rect x="1396.76" y="620.36" width="31.43" height="17.29" fill="#2bffd4"/>
<rect x="1427.89" y="620.36" width="31.43" height="17.29" fill="#00eaff"/>
<rect x="1459.02" y="620.36" width="62.56" height="17.29" fill="#00d4ff"/>
<rect x="1521.28" y="620.36" width="31.43" height="17.29" fill="#00aaff"/>
<rect x="1552.41" y="620.36" width="31.43" height="17.29" fill="#0040ff"/>
<rect x="1583.54" y="620.36" width="31.43" height="17.29" fill="#00aaff"/>
<rect x="1614.67" y="620.36" width="31.43" height="17.29" fill="#002aff"/>
<rect x="929.80" y="637.35" width="31.43" height="17.29" fill="#ff5500"/>
<rect x="960.93" y="637.35" width="31.43" height="17.29" fill="#00d4ff"/>
<rect x="992.06" y="637.35" width="31.43" height="17.29" fill="#0080ff"/>
<rect x="1023.19" y="637.35" width="31.43" height="17.29" fill="#00aaff"/>
<rect x="1054.32" y="637.35" width="31.43" height="17.29" fill="#00eaff"/>
<rect x="1085.45" y="637.35" width="31.43" height="17.29" fill="#0080ff"/>
<rect x="1116.58" y="637.35" width="31.43" height="17.29" fill="#00d4ff"/>
<rect x="1147.71" y="637.35" width="31.43" height="17.29" fill="#00ffff"/>
<rect x="1178.84" y="637.35" width="62.56" height="17.29" fill="#00d4ff"/>
<rect x="1241.10" y="637.35" width="31.43" height="17.29" fill="#00eaff"/>
<rect x="1272.23" y="637.35" width="31.43" height="17.29" fill="#00bfff"/>
<rect x="1303.37" y="637.35" width="62.56" height="17.29" fill="#00d4ff"/>
<rect x="1365.63" y="637.35" width="31.43" height="17.29" fill="#00bfff"/>
<rect x="1396.76" y="637.35" width="31.43" height="17.29" fill="#0095ff"/>
<rect x="1427.89" y="637.35" width="31.43" height="17.29" fill="#00d4ff"/>
<rect x="1459.02" y="637.35" width="31.43" height="17.29" fill="#00bfff"/>
<rect x="1490.15" y="637.35" width="31.43" height="17.29" fill="#00d4ff"/>
<rect x="1521.28" y="637.35" width="31.43" height="17.29" fill="#00bfff"/>
<rect x="1552.41" y="637.35" width="31.43" height="17.29" fill="#00ffff"/>
<rect x="1583.54" y="637.35" width="31.43" height="17.29" fill="#00aaff"/>
<rect x="1614.67" y="637.35" width="31.43" height="17.29" fill="#00d4ff"/>
<rect x="929.80" y="654.35" width="31.43" height="17.29" fill="#ff2a00"/>
<rect x="960.93" y="654.35" width="31.43" height="17.29" fill="#00ffff"/>
<rect x="992.06" y="654.35" width="31.43" height="17.29" fill="#15ffea"/>
<rect x="1023.19" y="654.35" width="31.43" height="17.29" fill="#2bffd4"/>
<rect x="1054.32" y="654.35" width="31.43" height="17.29" fill="#00eaff"/>
<rect x="1085.45" y="654.35" width="31.43" height="17.29" fill="#15ffea"/>
<rect x="1116.58" y="654.35" width="31.43" height="17.29" fill="#00d4ff"/>
<rect x="1147.71" y="654.35" width="31.43" height="17.29" fill="#15ffea"/>
<rect x="1178.84" y="654.35" width="31.43" height="17.29" fill="#00aaff"/>
<rect x="1209.97" y="654.35" width="31.43" height="17.29" fill="#00d4ff"/>
<rect x="1241.10" y="654.35" width="31.43" height="17.29" fill="#00ffff"/>
<rect x="1272.23" y="654.35" width="31.43" height="17.29" fill="#00d4ff"/>
<rect x="1303.37" y="654.35" width="31.43" height="17.29" fill="#0055ff"/>
<rect x="1334.50" y="654.35" width="31.43" height="17.29" fill="#00ffff"/>
<rect x="1365.63" y="654.35" width="31.43" height="17.29" fill="#0095ff"/>
<rect x="1396.76" y="654.35" width="31.43" height="17.29" fill="#00bfff"/>
<rect x="1427.89" y="654.35" width="31.43" height="17.29" fill="#0080ff"/>
<rect x="1459.02" y="654.35" width="31.43" height="17.29" fill="#0095ff"/>
<rect x="1490.15" y="654.35" width="31.43" height="17.29" fill="#00d4ff"/>
<rect x="1521.28" y="654.35" width="31.43" height="17.29" fill="#0080ff"/>
<rect x="1552.41" y="654.35" width="31.43" height="17.29" fill="#002aff"/>
<rect x="1583.54" y="654.35" width="31.43" height="17.29" fill="#0055ff"/>
<rect x="1614.67" y="654.35" width="31.43" height="17.29" fill="#0080ff"/>
<rect x="929.80" y="671.34" width="31.43" height="17.29" fill="#ff6a00"/>
<rect x="960.93" y="671.34" width="31.43" height="17.29" fill="#00d4ff"/>
<rect x="992.06" y="671.34" width="31.43" height="17.29" fill="#00bfff"/>
<rect x="1023.19" y="671.34" width="93.69" height="17.29" fill="#00d4ff"/>
<rect x="1116.58" y="671.34" width="31.43" height="17.29" fill="#00aaff"/>
<rect x="1147.71" y="671.34" width="31.43" height="17.29" fill="#0080ff"/>
<rect x="1178.84" y="671.34" width="31.43" height="17.29" fill="#00d4ff"/>
<rect x="1209.97" y="671.34" width="31.43" height="17.29" fill="#0095ff"/>
<rect x="1241.10" y="671.34" width="31.43" height="17.29" fill="#00eaff"/>
<rect x="1272.23" y="671.34" width="62.56" height="17.29" fill="#00bfff"/>
<rect x="1334.50" y="671.34" width="31.43" height="17.29" fill="#0095ff"/>
<rect x="1365.63" y="671.34" width="31.43" height="17.29" fill="#00bfff"/>
<rect x="1396.76" y="671.34" width="31.43" height="17.29" fill="#006aff"/>
<rect x="1427.89" y="671.34" width="31.43" height="17.29" fill="#00d4ff"/>
<rect x="1459.02" y="671.34" width="31.43" height="17.29" fill="#00aaff"/>
<rect x="1490.15" y="671.34" width="62.56" height="17.29" fill="#0095ff"/>
<rect x="1552.41" y="671.34" width="31.43" height="17.29" fill="#006aff"/>
<rect x="1583.54" y="671.34" width="31.43" height="17.29" fill="#0040ff"/>
<rect x="1614.67" y="671.34" width="31.43" height="17.29" fill="#0080ff"/>
<rect x="929.80" y="688.33" width="31.43" height="17.29" fill="#ff6a00"/>
<rect x="960.93" y="688.33" width="62.56" height="17.29" fill="#15ffea"/>
<rect x="1023.19" y="688.33" width="62.56" height="17.29" fill="#00d4ff"/>
<rect x="1085.45" y="688.33" width="31.43" height="17.29" fill="#15ffea"/>
<rect x="1116.58" y="688.33" width="31.43" height="17.29" fill="#00eaff"/>
<rect x="1147.71" y="688.33" width="31.43" height="17.29" fill="#00bfff"/>
<rect x="1178.84" y="688.33" width="31.43" height="17.29" fill="#00ffff"/>
<rect x="1209.97" y="688.33" width="31.43" height="17.29" fill="#00bfff"/>
<rect x="1241.10" y="688.33" width="31.43" height="17.29" fill="#00ffff"/>
<rect x="1272.23" y="688.33" width="31.43" height="17.29" fill="#00eaff"/>
<rect x="1303.37" y="688.33" width="31.43" height="17.29" fill="#00aaff"/>
<rect x="1334.50" y="688.33" width="31.43" height="17.29" fill="#00eaff"/>
<rect x="1365.63" y="688.33" width="62.56" height="17.29" fill="#00aaff"/>
<rect x="1427.89" y="688.33" width="31.43" height="17.29" fill="#0095ff"/>
<rect x="1459.02" y="688.33" width="31.43" height="17.29" fill="#00bfff"/>
<rect x="1490.15" y="688.33" width="31.43" height="17.29" fill="#006aff"/>
<rect x="1521.28" y="688.33" width="31.43" height="17.29" fill="#0055ff"/>
<rect x="1552.41" y="688.33" width="31.43" height="17.29" fill="#00aaff"/>
<rect x="1583.54" y="688.33" width="31.43" height="17.29" fill="#0015ff"/>
<rect x="1614.67" y="688.33" width="31.43" height="17.29" fill="#006aff"/>
<rect x="929.80" y="705.32" width="31.43" height="17.29" fill="#ff9500"/>
<rect x="960.93" y="705.32" width="31.43" height="17.29" fill="#00d4ff"/>
<rect x="992.06" y="705.32" width="31.43" height="17.29" fill="#006aff"/>
<rect x="1023.19" y="705.32" width="31.43" height="17.29" fill="#0055ff"/>
<rect x="1054.32" y="705.32" width="31.43" height="17.29" fill="#00d4ff"/>
<rect x="1085.45" y="705.32" width="31.43" height="17.29" fill="#2bffd4"/>
<rect x="1116.58" y="705.32" width="31.43" height="17.29" fill="#00eaff"/>
<rect x="1147.71" y="705.32" width="31.43" height="17.29" fill="#0080ff"/>
<rect x="1178.84" y="705.32" width="31.43" height="17.29" fill="#00d4ff"/>
<rect x="1209.97" y="705.32" width="31.43" height="17.29" fill="#00aaff"/>
<rect x="1241.10" y="705.32" width="31.43" height="17.29" fill="#00bfff"/>
<rect x="1272.23" y="705.32" width="31.43" height="17.29" fill="#0095ff"/>
<rect x="1303.37" y="705.32" width="31.43" height="17.29" fill="#0080ff"/>
<rect x="1334.50" y="705.32" width="31.43" height="17.29" fill="#006aff"/>
<rect x="1365.63" y="705.32" width="31.43" height="17.29" fill="#00d4ff"/>
<rect x="1396.76" y="705.32" width="31.43" height="17.29" fill="#0095ff"/>
<rect x="1427.89" y="705.32" width="31.43" height="17.29" fill="#00aaff"/>
<rect x="1459.02" y="705.32" width="93.69" height="17.29" fill="#006aff"/>
<rect x="1552.41" y="705.32" width="31.43" height="17.29" fill="#0000ff"/>
<rect x="1583.54" y="705.32" width="31.43" height="17.29" fill="#006aff"/>
<rect x="1614.67" y="705.32" width="31.43" height="17.29" fill="#00aaff"/>
<rect x="929.80" y="722.31" width="31.43" height="17.29" fill="#ff5500"/>
<rect x="960.93" y="722.31" width="31.43" height="17.29" fill="#0095ff"/>
<rect x="992.06" y="722.31" width="31.43" height="17.29" fill="#2bffd4"/>
<rect x="1023.19" y="722.31" width="31.43" height="17.29" fill="#00d4ff"/>
<rect x="1054.32" y="722.31" width="31.43" height="17.29" fill="#00ffff"/>
<rect x="1085.45" y="722.31" width="31.43" height="17.29" fill="#55ffaa"/>
<rect x="1116.58" y="722.31" width="31.43" height="17.29" fill="#15ffea"/>
<rect x="1147.71" y="722.31" width="31.43" height="17.29" fill="#00d4ff"/>
<rect x="1178.84" y="722.31" width="31.43" height="17.29" fill="#0095ff"/>
<rect x="1209.97" y="722.31" width="62.56" height="17.29" fill="#00d4ff"/>
<rect x="1272.23" y="722.31" width="31.43" height="17.29" fill="#00bfff"/>
<rect x="1303.37" y="722.31" width="31.43" height="17.29" fill="#2bffd4"/>
<rect x="1334.50" y="722.31" width="31.43" height="17.29" fill="#00aaff"/>
<rect x="1365.63" y="722.31" width="31.43" height="17.29" fill="#00d4ff"/>
<rect x="1396.76" y="722.31" width="93.69" height="17.29" fill="#00aaff"/>
<rect x="1490.15" y="722.31" width="62.56" height="17.29" fill="#006aff"/>
<rect x="1552.41" y="722.31" width="31.43" height="17.29" fill="#0040ff"/>
<rect x="1583.54" y="722.31" width="62.56" height="17.29" fill="#006aff"/>
<rect x="929.80" y="739.30" width="31.43" height="17.29" fill="#ff9500"/>
<rect x="960.93" y="739.30" width="31.43" height="17.29" fill="#00eaff"/>
<rect x="992.06" y="739.30" width="31.43" height="17.29" fill="#0080ff"/>
<rect x="1023.19" y="739.30" width="31.43" height="17.29" fill="#00d4ff"/>
<rect x="1054.32" y="739.30" width="31.43" height="17.29" fill="#0095ff"/>
<rect x="1085.45" y="739.30" width="31.43" height="17.29" fill="#00d4ff"/>
<rect x="1116.58" y="739.30" width="31.43" height="17.29" fill="#00eaff"/>
<rect x="1147.71" y="739.30" width="31.43" height="17.29" fill="#00d4ff"/>
<rect x="1178.84" y="739.30" width="31.43" height="17.29" fill="#0095ff"/>
<rect x="1209.97" y="739.30" width="31.43" height="17.29" fill="#0080ff"/>
<rect x="1241.10" y="739.30" width="31.43" height="17.29" fill="#00bfff"/>
<rect x="1272.23" y="739.30" width="31.43" height="17.29" fill="#00aaff"/>
<rect x="1303.37" y="739.30" width="31.43" height="17.29" fill="#006aff"/>
<rect x="1334.50" y="739.30" width="62.56" height="17.29" fill="#00aaff"/>
<rect x="1396.76" y="739.30" width="124.82" height="17.29" fill="#006aff"/>
<rect x="1521.28" y="739.30" width="31.43" height="17.29" fill="#0095ff"/>
<rect x="1552.41" y="739.30" width="31.43" height="17.29" fill="#006aff"/>
<rect x="1583.54" y="739.30" width="62.56" height="17.29" fill="#0015ff"/>
<rect x="929.80" y="756.29" width="31.43" height="17.29" fill="#ffaa00"/>
<rect x="960.93" y="756.29" width="31.43" height="17.29" fill="#00eaff"/>
<rect x="992.06" y="756.29" width="62.56" height="17.29" fill="#00d4ff"/>
<rect x="1054.32" y="756.29" width="31.43" height="17.29" fill="#00bfff"/>
<rect x="1085.45" y="756.29" width="62.56" height="17.29" fill="#00d4ff"/>
<rect x="1147.71" y="756.29" width="31.43" height="17.29" fill="#00ffff"/>
<rect x="1178.84" y="756.29" width="62.56" height="17.29" fill="#00d4ff"/>
<rect x="1241.10" y="756.29" width="31.43" height="17.29" fill="#0095ff"/>
<rect x="1272.23" y="756.29" width="31.43" height="17.29" fill="#00d4ff"/>
<rect x="1303.37" y="756.29" width="31.43" height="17.29" fill="#0095ff"/>
<rect x="1334.50" y="756.29" width="62.56" height="17.29" fill="#00aaff"/>
<rect x="1396.76" y="756.29" width="31.43" height="17.29" fill="#0080ff"/>
<rect x="1427.89" y="756.29" width="31.43" height="17.29" fill="#00aaff"/>
<rect x="1459.02" y="756.29" width="31.43" height="17.29" fill="#0055ff"/>
<rect x="1490.15" y="756.29" width="31.43" height="17.29" fill="#0015ff"/>
<rect x="1521.28" y="756.29" width="31.43" height="17.29" fill="#0055ff"/>
<rect x="1552.41" y="756.29" width="31.43" height="17.29" fill="#0040ff"/>
<rect x="1583.54" y="756.29" width="31.43" height="17.29" fill="#002aff"/>
<rect x="1614.67" y="756.29" width="31.43" height="17.29" fill="#0000ff"/>
<rect x="929.80" y="773.28" width="31.43" height="17.29" fill="#ffaa00"/>
<rect x="960.93" y="773.28" width="62.56" height="17.29" fill="#00d4ff"/>
<rect x="1023.19" y="773.28" width="62.56" height="17.29" fill="#00aaff"/>
<rect x="1085.45" y="773.28" width="62.56" height="17.29" fill="#00bfff"/>
<rect x="1147.71" y="773.28" width="31.43" height="17.29" fill="#00d4ff"/>
<rect x="1178.84" y="773.28" width="31.43" height="17.29" fill="#0095ff"/>
<rect x="1209.97" y="773.28" width="62.56" height="17.29" fill="#00bfff"/>
<rect x="1272.23" y="773.28" width="31.43" height="17.29" fill="#0080ff"/>
<rect x="1303.37" y="773.28" width="31.43" height="17.29" fill="#0095ff"/>
<rect x="1334.50" y="773.28" width="31.43" height="17.29" fill="#0000ea"/>
<rect x="1365.63" y="773.28" width="31.43" height="17.29" fill="#00aaff"/>
<rect x="1396.76" y="773.28" width="31.43" height="17.29" fill="#0095ff"/>
<rect x="1427.89" y="773.28" width="31.43" height="17.29" fill="#0080ff"/>
<rect x="1459.02" y="773.28" width="62.56" height="17.29" fill="#0040ff"/>
<rect x="1521.28" y="773.28" width="31.43" height="17.29" fill="#0000d4"/>
<rect x="1552.41" y="773.28" width="31.43" height="17.29" fill="#0040ff"/>
<rect x="1583.54" y="773.28" width="31.43" height="17.29" fill="#0055ff"/>
<rect x="1614.67" y="773.28" width="31.43" height="17.29" fill="#0040ff"/>
<rect x="929.80" y="790.27" width="31.43" height="17.29" fill="#ffbf00"/>
<rect x="960.93" y="790.27" width="62.56" height="17.29" fill="#00d4ff"/>
<rect x="1023.19" y="790.27" width="31.43" height="17.29" fill="#0080ff"/>
<rect x="1054.32" y="790.27" width="31.43" height="17.29" fill="#0095ff"/>
<rect x="1085.45" y="790.27" width="31.43" height="17.29" fill="#00d4ff"/>
<rect x="1116.58" y="790.27" width="31.43" height="17.29" fill="#00aaff"/>
<rect x="1147.71" y="790.27" width="31.43" height="17.29" fill="#0055ff"/>
<rect x="1178.84" y="790.27" width="31.43" height="17.29" fill="#0080ff"/>
<rect x="1209.97" y="790.27" width="31.43" height="17.29" fill="#0040ff"/>
<rect x="1241.10" y="790.27" width="31.43" height="17.29" fill="#0080ff"/>
<rect x="1272.23" y="790.27" width="31.43" height="17.29" fill="#0095ff"/>
<rect x="1303.37" y="790.27" width="31.43" height="17.29" fill="#006aff"/>
<rect x="1334.50" y="790.27" width="31.43" height="17.29" fill="#00aaff"/>
<rect x="1365.63" y="790.27" width="31.43" height="17.29" fill="#0095ff"/>
<rect x="1396.76" y="790.27" width="31.43" height="17.29" fill="#0080ff"/>
<rect x="1427.89" y="790.27" width="31.43" height="17.29" fill="#0055ff"/>
<rect x="1459.02" y="790.27" width="31.43" height="17.29" fill="#006aff"/>
<rect x="1490.15" y="790.27" width="31.43" height="17.29" fill="#0015ff"/>
<rect x="1521.28" y="790.27" width="31.43" height="17.29" fill="#0000bf"/>
<rect x="1552.41" y="790.27" width="31.43" height="17.29" fill="#0040ff"/>
<rect x="1583.54" y="790.27" width="62.56" height="17.29" fill="#002aff"/>
<rect x="929.80" y="807.26" width="31.43" height="17.29" fill="#ffbf00"/>
<rect x="960.93" y="807.26" width="31.43" height="17.29" fill="#00aaff"/>
<rect x="992.06" y="807.26" width="31.43" height="17.29" fill="#0080ff"/>
<rect x="1023.19" y="807.26" width="31.43" height="17.29" fill="#002aff"/>
<rect x="1054.32" y="807.26" width="31.43" height="17.29" fill="#0055ff"/>
<rect x="1085.45" y="807.26" width="31.43" height="17.29" fill="#00aaff"/>
<rect x="1116.58" y="807.26" width="31.43" height="17.29" fill="#0095ff"/>
<rect x="1147.71" y="807.26" width="31.43" height="17.29" fill="#0080ff"/>
<rect x="1178.84" y="807.26" width="31.43" height="17.29" fill="#0095ff"/>
<rect x="1209.97" y="807.26" width="31.43" height="17.29" fill="#0040ff"/>
<rect x="1241.10" y="807.26" width="31.43" height="17.29" fill="#0080ff"/>
<rect x="1272.23" y="807.26" width="31.43" height="17.29" fill="#006aff"/>
<rect x="1303.37" y="807.26" width="31.43" height="17.29" fill="#002aff"/>
<rect x="1334.50" y="807.26" width="31.43" height="17.29" fill="#006aff"/>
<rect x="1365.63" y="807.26" width="62.56" height="17.29" fill="#0095ff"/>
<rect x="1427.89" y="807.26" width="62.56" height="17.29" fill="#0040ff"/>
<rect x="1490.15" y="807.26" width="31.43" height="17.29" fill="#0015ff"/>
<rect x="1521.28" y="807.26" width="31.43" height="17.29" fill="#002aff"/>
<rect x="1552.41" y="807.26" width="31.43" height="17.29" fill="#0080ff"/>
<rect x="1583.54" y="807.26" width="31.43" height="17.29" fill="#0000ff"/>
<rect x="1614.67" y="807.26" width="31.43" height="17.29" fill="#0015ff"/>
<rect x="929.80" y="824.25" width="31.43" height="17.29" fill="#ffbf00"/>
<rect x="960.93" y="824.25" width="31.43" height="17.29" fill="#00aaff"/>
<rect x="992.06" y="824.25" width="31.43" height="17.29" fill="#006aff"/>
<rect x="1023.19" y="824.25" width="31.43" height="17.29" fill="#0095ff"/>
<rect x="1054.32" y="824.25" width="31.43" height="17.29" fill="#00aaff"/>
<rect x="1085.45" y="824.25" width="62.56" height="17.29" fill="#0040ff"/>
<rect x="1147.71" y="824.25" width="31.43" height="17.29" fill="#006aff"/>
<rect x="1178.84" y="824.25" width="31.43" height="17.29" fill="#002aff"/>
<rect x="1209.97" y="824.25" width="31.43" height="17.29" fill="#006aff"/>
<rect x="1241.10" y="824.25" width="62.56" height="17.29" fill="#0055ff"/>
<rect x="1303.37" y="824.25" width="31.43" height="17.29" fill="#0080ff"/>
<rect x="1334.50" y="824.25" width="31.43" height="17.29" fill="#0095ff"/>
<rect x="1365.63" y="824.25" width="31.43" height="17.29" fill="#0040ff"/>
<rect x="1396.76" y="824.25" width="62.56" height="17.29" fill="#006aff"/>
<rect x="1459.02" y="824.25" width="31.43" height="17.29" fill="#0015ff"/>
<rect x="1490.15" y="824.25" width="31.43" height="17.29" fill="#006aff"/>
<rect x="1521.28" y="824.25" width="31.43" height="17.29" fill="#0000ff"/>
<rect x="1552.41" y="824.25" width="31.43" height="17.29" fill="#0040ff"/>
<rect x="1583.54" y="824.25" width="62.56" height="17.29" fill="#0015ff"/>
<rect x="929.80" y="841.25" width="31.43" height="17.29" fill="#ffd500"/>
<rect x="960.93" y="841.25" width="93.69" height="17.29" fill="#0080ff"/>
<rect x="1054.32" y="841.25" width="31.43" height="17.29" fill="#006aff"/>
<rect x="1085.45" y="841.25" width="31.43" height="17.29" fill="#0095ff"/>
<rect x="1116.58" y="841.25" width="62.56" height="17.29" fill="#0080ff"/>
<rect x="1178.84" y="841.25" width="31.43" height="17.29" fill="#006aff"/>
<rect x="1209.97" y="841.25" width="62.56" height="17.29" fill="#0055ff"/>
<rect x="1272.23" y="841.25" width="31.43" height="17.29" fill="#002aff"/>
<rect x="1303.37" y="841.25" width="31.43" height="17.29" fill="#0040ff"/>
<rect x="1334.50" y="841.25" width="31.43" height="17.29" fill="#0000ea"/>
<rect x="1365.63" y="841.25" width="31.43" height="17.29" fill="#0080ff"/>
<rect x="1396.76" y="841.25" width="31.43" height="17.29" fill="#0055ff"/>
<rect x="1427.89" y="841.25" width="31.43" height="17.29" fill="#0000d4"/>
<rect x="1459.02" y="841.25" width="31.43" height="17.29" fill="#0055ff"/>
<rect x="1490.15" y="841.25" width="31.43" height="17.29" fill="#0000d4"/>
<rect x="1521.28" y="841.25" width="31.43" height="17.29" fill="#0000ff"/>
<rect x="1552.41" y="841.25" width="31.43" height="17.29" fill="#0000ea"/>
<rect x="1583.54" y="841.25" width="31.43" height="17.29" fill="#0055ff"/>
<rect x="1614.67" y="841.25" width="31.43" height="17.29" fill="#0040ff"/>
<rect x="929.80" y="858.24" width="31.43" height="17.29" fill="#ffea00"/>
<rect x="960.93" y="858.24" width="31.43" height="17.29" fill="#00aaff"/>
<rect x="992.06" y="858.24" width="62.56" height="17.29" fill="#0055ff"/>
<rect x="1054.32" y="858.24" width="31.43" height="17.29" fill="#002aff"/>
<rect x="1085.45" y="858.24" width="31.43" height="17.29" fill="#006aff"/>
<rect x="1116.58" y="858.24" width="31.43" height="17.29" fill="#0080ff"/>
<rect x="1147.71" y="858.24" width="31.43" height="17.29" fill="#0055ff"/>
<rect x="1178.84" y="858.24" width="31.43" height="17.29" fill="#0000ea"/>
<rect x="1209.97" y="858.24" width="31.43" height="17.29" fill="#0055ff"/>
<rect x="1241.10" y="858.24" width="31.43" height="17.29" fill="#0040ff"/>
<rect x="1272.23" y="858.24" width="31.43" height="17.29" fill="#002aff"/>
<rect x="1303.37" y="858.24" width="31.43" height="17.29" fill="#0095ff"/>
<rect x="1334.50" y="858.24" width="31.43" height="17.29" fill="#0000ff"/>
<rect x="1365.63" y="858.24" width="62.56" height="17.29" fill="#0015ff"/>
<rect x="1427.89" y="858.24" width="31.43" height="17.29" fill="#0000d4"/>
<rect x="1459.02" y="858.24" width="31.43" height="17.29" fill="#0040ff"/>
<rect x="1490.15" y="858.24" width="31.43" height="17.29" fill="#0000ff"/>
<rect x="1521.28" y="858.24" width="31.43" height="17.29" fill="#002aff"/>
<rect x="1552.41" y="858.24" width="31.43" height="17.29" fill="#0000aa"/>
<rect x="1583.54" y="858.24" width="31.43" height="17.29" fill="#0000d4"/>
<rect x="1614.67" y="858.24" width="31.43" height="17.29" fill="#00008f"/>
<rect x="929.80" y="875.23" width="31.43" height="17.29" fill="#ffff00"/>
<rect x="960.93" y="875.23" width="31.43" height="17.29" fill="#0040ff"/>
<rect x="992.06" y="875.23" width="62.56" height="17.29" fill="#0055ff"/>
<rect x="1054.32" y="875.23" width="31.43" height="17.29" fill="#0080ff"/>
<rect x="1085.45" y="875.23" width="31.43" height="17.29" fill="#006aff"/>
<rect x="1116.58" y="875.23" width="31.43" height="17.29" fill="#0040ff"/>
<rect x="1147.71" y="875.23" width="31.43" height="17.29" fill="#0055ff"/>
<rect x="1178.84" y="875.23" width="31.43" height="17.29" fill="#0000d4"/>
<rect x="1209.97" y="875.23" width="31.43" height="17.29" fill="#0055ff"/>
<rect x="1241.10" y="875.23" width="31.43" height="17.29" fill="#0000d4"/>
<rect x="1272.23" y="875.23" width="31.43" height="17.29" fill="#006aff"/>
<rect x="1303.37" y="875.23" width="31.43" height="17.29" fill="#0055ff"/>
<rect x="1334.50" y="875.23" width="31.43" height="17.29" fill="#0040ff"/>
<rect x="1365.63" y="875.23" width="31.43" height="17.29" fill="#002aff"/>
<rect x="1396.76" y="875.23" width="31.43" height="17.29" fill="#0000ff"/>
<rect x="1427.89" y="875.23" width="31.43" height="17.29" fill="#0015ff"/>
<rect x="1459.02" y="875.23" width="31.43" height="17.29" fill="#0000bf"/>
<rect x="1490.15" y="875.23" width="31.43" height="17.29" fill="#0000ff"/>
<rect x="1521.28" y="875.23" width="31.43" height="17.29" fill="#0000aa"/>
<rect x="1552.41" y="875.23" width="31.43" height="17.29" fill="#0000ea"/>
<rect x="1583.54" y="875.23" width="62.56" height="17.29" fill="#0000d4"/>
<rect x="929.80" y="892.22" width="31.43" height="17.29" fill="#eaff15"/>
<rect x="960.93" y="892.22" width="62.56" height="17.29" fill="#0055ff"/>
<rect x="1023.19" y="892.22" width="31.43" height="17.29" fill="#0000ea"/>
<rect x="1054.32" y="892.22" width="31.43" height="17.29" fill="#006aff"/>
<rect x="1085.45" y="892.22" width="31.43" height="17.29" fill="#0040ff"/>
<rect x="1116.58" y="892.22" width="31.43" height="17.29" fill="#0055ff"/>
<rect x="1147.71" y="892.22" width="31.43" height="17.29" fill="#002aff"/>
<rect x="1178.84" y="892.22" width="31.43" height="17.29" fill="#0000d4"/>
<rect x="1209.97" y="892.22" width="31.43" height="17.29" fill="#0055ff"/>
<rect x="1241.10" y="892.22" width="31.43" height="17.29" fill="#002aff"/>
<rect x="1272.23" y="892.22" width="31.43" height="17.29" fill="#0000d4"/>
<rect x="1303.37" y="892.22" width="31.43" height="17.29" fill="#002aff"/>
<rect x="1334.50" y="892.22" width="31.43" height="17.29" fill="#0000bf"/>
<rect x="1365.63" y="892.22" width="31.43" height="17.29" fill="#0015ff"/>
<rect x="1396.76" y="892.22" width="31.43" height="17.29" fill="#0040ff"/>
<rect x="1427.89" y="892.22" width="31.43" height="17.29" fill="#0000ea"/>
<rect x="1459.02" y="892.22" width="31.43" height="17.29" fill="#0040ff"/>
<rect x="1490.15" y="892.22" width="31.43" height="17.29" fill="#0000ff"/>
<rect x="1521.28" y="892.22" width="62.56" height="17.29" fill="#0000d4"/>
<rect x="1583.54" y="892.22" width="31.43" height="17.29" fill="#000095"/>
<rect x="1614.67" y="892.22" width="31.43" height="17.29" fill="#0000d4"/>
<rect x="929.80" y="909.21" width="31.43" height="17.29" fill="#d5ff2a"/>
<rect x="960.93" y="909.21" width="31.43" height="17.29" fill="#0015ff"/>
<rect x="992.06" y="909.21" width="31.43" height="17.29" fill="#0000ea"/>
<rect x="1023.19" y="909.21" width="31.43" height="17.29" fill="#0000ff"/>
<rect x="1054.32" y="909.21" width="31.43" height="17.29" fill="#0055ff"/>
<rect x="1085.45" y="909.21" width="31.43" height="17.29" fill="#0040ff"/>
<rect x="1116.58" y="909.21" width="31.43" height="17.29" fill="#002aff"/>
<rect x="1147.71" y="909.21" width="31.43" height="17.29" fill="#0000ff"/>
<rect x="1178.84" y="909.21" width="31.43" height="17.29" fill="#0055ff"/>
<rect x="1209.97" y="909.21" width="31.43" height="17.29" fill="#0015ff"/>
<rect x="1241.10" y="909.21" width="31.43" height="17.29" fill="#0000d4"/>
<rect x="1272.23" y="909.21" width="31.43" height="17.29" fill="#0015ff"/>
<rect x="1303.37" y="909.21" width="31.43" height="17.29" fill="#0000ff"/>
<rect x="1334.50" y="909.21" width="31.43" height="17.29" fill="#0000ea"/>
<rect x="1365.63" y="909.21" width="62.56" height="17.29" fill="#0015ff"/>
<rect x="1427.89" y="909.21" width="31.43" height="17.29" fill="#0000d4"/>
<rect x="1459.02" y="909.21" width="31.43" height="17.29" fill="#0000ff"/>
<rect x="1490.15" y="909.21" width="62.56" height="17.29" fill="#0000d4"/>
<rect x="1552.41" y="909.21" width="31.43" height="17.29" fill="#0000ea"/>
<rect x="1583.54" y="909.21" width="31.43" height="17.29" fill="#000095"/>
<rect x="1614.67" y="909.21" width="31.43" height="17.29" fill="#0000bf"/>
</g>
<rect class="k" x="929.80" y="552.40" width="716.00" height="373.80"/>
<path class="k" d="M945.37 926.20 v-7.20 M945.37 552.40 v7.20 M1043.20 926.20 v-7.20 M1043.20 552.40 v7.20 M1141.04 926.20 v-7.20 M1141.04 552.40 v7.20 M1238.88 926.20 v-7.20 M1238.88 552.40 v7.20 M1336.72 926.20 v-7.20 M1336.72 552.40 v7.20 M1434.56 926.20 v-7.20 M1434.56 552.40 v7.20 M1532.40 926.20 v-7.20 M1532.40 552.40 v7.20 M1630.23 926.20 v-7.20 M1630.23 552.40 v7.20 M929.80 560.90 h7.20 M1645.80 560.90 h-7.20 M929.80 679.83 h7.20 M1645.80 679.83 h-7.20 M929.80 798.77 h7.20 M1645.80 798.77 h-7.20 M929.80 917.70 h7.20 M1645.80 917.70 h-7.20"/>
<text class="x" transform="translate(945.37 945.20) scale(0.905 1)">0</text>
<text class="x" transform="translate(1043.20 945.20) scale(0.905 1)">10</text>
<text class="x" transform="translate(1141.04 945.20) scale(0.905 1)">20</text>
<text class="x" transform="translate(1238.88 945.20) scale(0.905 1)">30</text>
<text class="x" transform="translate(1336.72 945.20) scale(0.905 1)">40</text>
<text class="x" transform="translate(1434.56 945.20) scale(0.905 1)">50</text>
<text class="x" transform="translate(1532.40 945.20) scale(0.905 1)">60</text>
<text class="x" transform="translate(1630.23 945.20) scale(0.905 1)">70</text>
<text class="y" transform="translate(924.30 566.30) scale(0.905 1)">0</text>
<text class="y" transform="translate(924.30 685.23) scale(0.905 1)">500</text>
<text class="y" transform="translate(924.30 804.17) scale(0.905 1)">1000</text>
<text class="y" transform="translate(924.30 923.10) scale(0.905 1)">1500</text>
<text class="t" x="1287.80" y="544.00">d - Averaged 2D-FT of high-amplitude &quot;clicks&quot;</text>
<text class="l" x="1287.80" y="975.30">Spectral repetition (Hz)</text>
<text class="l" transform="translate(885.90 739.30) rotate(-90)">Frequency (Hz)</text>
</g>
</svg></body></html>
